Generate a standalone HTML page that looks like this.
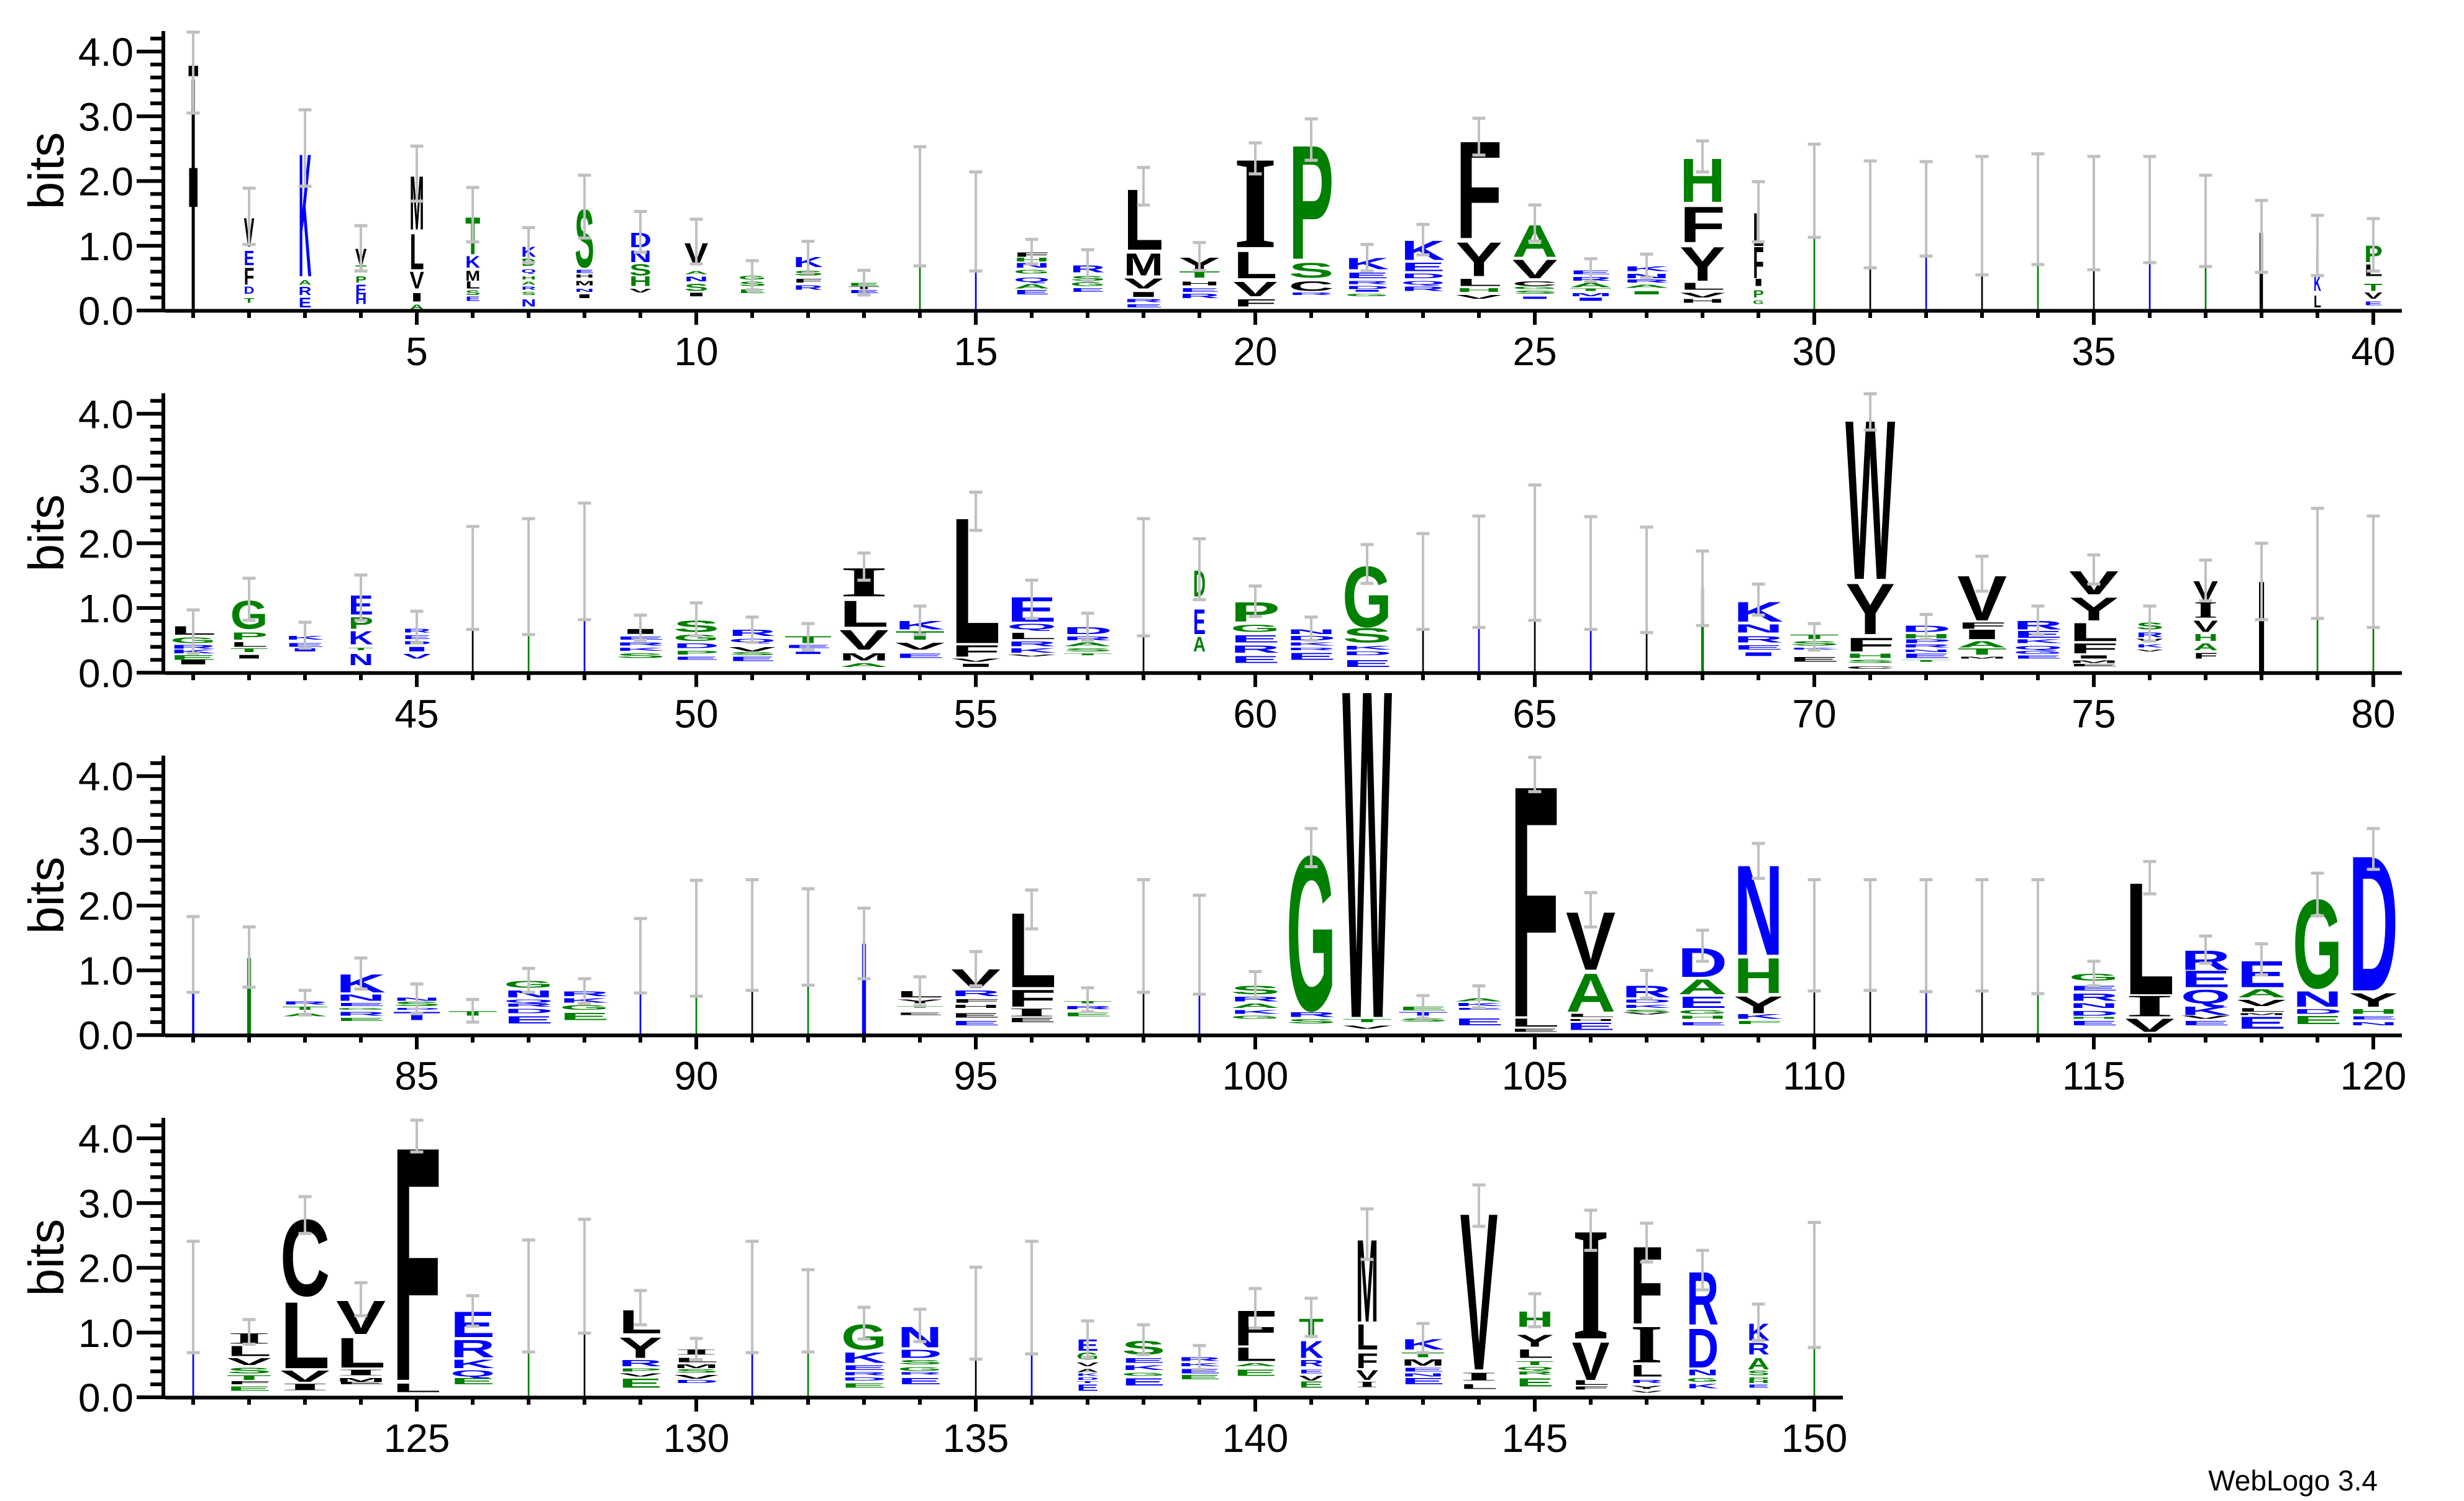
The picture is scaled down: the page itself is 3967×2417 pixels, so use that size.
<!DOCTYPE html>
<html><head><meta charset="utf-8"><style>
html,body{margin:0;padding:0;background:#fff}
svg{display:block}
.L text{font-family:"Liberation Sans",sans-serif;font-weight:bold;font-size:10px}
.k{fill:#000}.b{fill:#0000ff}.g{fill:#008000}
.L text.s{font-family:"Liberation Serif",serif}
.ax text{font-family:"Liberation Sans",sans-serif;font-weight:normal;fill:#000}
.eb{stroke:#c0c0c0;fill:none;stroke-width:4}
.ec{stroke:#c0c0c0;fill:none;stroke-width:5}
</style></head><body>
<svg width="3967" height="2417" viewBox="0 0 3967 2417" xmlns="http://www.w3.org/2000/svg">
<rect width="3967" height="2417" fill="#fff"/>

<!-- ROW 1 -->
<g class="L" transform="translate(271 500) scale(9 10.425)">
<g transform="translate(3.92 0)"><text class="k" transform="translate(0 -0.2)scale(1 5.16)" textLength="1.07" lengthAdjust="spacingAndGlyphs">I</text><rect x="-0.3" y="-37.8" width="1.7" height="1.6" class="k"/><rect x="-0.2" y="-22" width="1.5" height="6" class="k"/></g>
<g transform="translate(13.52 0)"><text class="g" transform="translate(0 -1.2)scale(1 0.11)" textLength="1.87" lengthAdjust="spacingAndGlyphs">T</text><text class="b" transform="translate(0 -2.6)scale(1 0.16)" textLength="1.87" lengthAdjust="spacingAndGlyphs">D</text><text class="k" transform="translate(0 -4)scale(1 0.37)" textLength="1.87" lengthAdjust="spacingAndGlyphs">F</text><text class="b" transform="translate(0 -7)scale(1 0.32)" textLength="1.87" lengthAdjust="spacingAndGlyphs">E</text><text class="k" transform="translate(0 -9.9)scale(1 0.63)" textLength="1.87" lengthAdjust="spacingAndGlyphs">V</text></g>
<g transform="translate(23.29 0)"><text class="b" transform="translate(0 -0.5)scale(1 0.21)" textLength="2.31" lengthAdjust="spacingAndGlyphs">E</text><text class="b" transform="translate(0 -2.4)scale(1 0.18)" textLength="2.31" lengthAdjust="spacingAndGlyphs">R</text><text class="g" transform="translate(0 -4)scale(1 0.11)" textLength="2.31" lengthAdjust="spacingAndGlyphs">A</text><text class="b" transform="translate(0 -5.3)scale(1 2.72)" textLength="2.31" lengthAdjust="spacingAndGlyphs">K</text></g>
<g transform="translate(33.43 0)"><text class="b" transform="translate(0 -1)scale(1 0.21)" textLength="2.05" lengthAdjust="spacingAndGlyphs">H</text><text class="b" transform="translate(0 -2.5)scale(1 0.21)" textLength="2.05" lengthAdjust="spacingAndGlyphs">E</text><text class="g" transform="translate(0 -4.3)scale(1 0.14)" textLength="2.05" lengthAdjust="spacingAndGlyphs">P</text><text class="g" transform="translate(0 -6)scale(1 0.14)" textLength="2.05" lengthAdjust="spacingAndGlyphs">T</text><text class="k" transform="translate(0 -7)scale(1 0.36)" textLength="2.05" lengthAdjust="spacingAndGlyphs">V</text></g>
<g transform="translate(43.16 0)"><text class="g" transform="translate(0 -0.2)scale(1 0.11)" textLength="2.58" lengthAdjust="spacingAndGlyphs">A</text><text class="k" transform="translate(0 -1.4)scale(1 0.19)" textLength="2.58" lengthAdjust="spacingAndGlyphs">I</text><text class="k" transform="translate(0 -3.4)scale(1 0.37)" textLength="2.58" lengthAdjust="spacingAndGlyphs">V</text><text class="k" transform="translate(0 -6.4)scale(1 0.78)" textLength="2.58" lengthAdjust="spacingAndGlyphs">L</text><text class="k" transform="translate(0 -12.5)scale(1 1.18)" textLength="2.58" lengthAdjust="spacingAndGlyphs">M</text></g>
<g transform="translate(53.12 0)"><text class="b" transform="translate(0 -1.5)scale(1 0.1)" textLength="2.67" lengthAdjust="spacingAndGlyphs">E</text><text class="g" transform="translate(0 -2.4)scale(1 0.11)" textLength="2.67" lengthAdjust="spacingAndGlyphs">S</text><text class="k" transform="translate(0 -3.4)scale(1 0.16)" textLength="2.67" lengthAdjust="spacingAndGlyphs">L</text><text class="k" transform="translate(0 -4.6)scale(1 0.22)" textLength="2.67" lengthAdjust="spacingAndGlyphs">M</text><text class="b" transform="translate(0 -6.6)scale(1 0.26)" textLength="2.67" lengthAdjust="spacingAndGlyphs">K</text><text class="g" transform="translate(0 -8.7)scale(1 0.82)" textLength="2.67" lengthAdjust="spacingAndGlyphs">T</text></g>
<g transform="translate(63.12 0)"><text class="b" transform="translate(0 -0.6)scale(1 0.16)" textLength="2.67" lengthAdjust="spacingAndGlyphs">N</text><text class="g" transform="translate(0 -2.4)scale(1 0.07)" textLength="2.67" lengthAdjust="spacingAndGlyphs">S</text><text class="b" transform="translate(0 -3.2)scale(1 0.07)" textLength="2.67" lengthAdjust="spacingAndGlyphs">R</text><text class="g" transform="translate(0 -4)scale(1 0.07)" textLength="2.67" lengthAdjust="spacingAndGlyphs">A</text><text class="g" transform="translate(0 -4.8)scale(1 0.07)" textLength="2.67" lengthAdjust="spacingAndGlyphs">H</text><text class="b" transform="translate(0 -5.8)scale(1 0.08)" textLength="2.67" lengthAdjust="spacingAndGlyphs">Q</text><text class="g" transform="translate(0 -6.9)scale(1 0.16)" textLength="2.67" lengthAdjust="spacingAndGlyphs">D</text><text class="b" transform="translate(0 -8.3)scale(1 0.22)" textLength="2.67" lengthAdjust="spacingAndGlyphs">K</text></g>
<g transform="translate(72.71 0)"><text class="k" transform="translate(0 -1.9)scale(1 0.08)" textLength="3.47" lengthAdjust="spacingAndGlyphs">I</text><text class="b" transform="translate(0 -2.9)scale(1 0.07)" textLength="3.47" lengthAdjust="spacingAndGlyphs">N</text><text class="k" transform="translate(0 -3.9)scale(1 0.1)" textLength="3.47" lengthAdjust="spacingAndGlyphs">M</text><text class="k" transform="translate(0 -5.1)scale(1 0.07)" textLength="3.47" lengthAdjust="spacingAndGlyphs">H</text><text class="b" transform="translate(0 -5.8)scale(1 0.07)" textLength="3.47" lengthAdjust="spacingAndGlyphs">E</text><text class="g" transform="translate(0 -6.7)scale(1 1.28)" textLength="3.47" lengthAdjust="spacingAndGlyphs">S</text></g>
<g transform="translate(82.45 0)"><text class="k" transform="translate(0 -2.8)scale(1 0.08)" textLength="4" lengthAdjust="spacingAndGlyphs">V</text><text class="g" transform="translate(0 -3.8)scale(1 0.21)" textLength="4" lengthAdjust="spacingAndGlyphs">H</text><text class="g" transform="translate(0 -5.4)scale(1 0.25)" textLength="4" lengthAdjust="spacingAndGlyphs">S</text><text class="b" transform="translate(0 -7.5)scale(1 0.26)" textLength="4" lengthAdjust="spacingAndGlyphs">N</text><text class="b" transform="translate(0 -9.8)scale(1 0.32)" textLength="4" lengthAdjust="spacingAndGlyphs">D</text></g>
<g transform="translate(92.31 0)"><text class="k" transform="translate(0 -2.2)scale(1 0.08)" textLength="4.27" lengthAdjust="spacingAndGlyphs">I</text><text class="g" transform="translate(0 -3)scale(1 0.16)" textLength="4.27" lengthAdjust="spacingAndGlyphs">S</text><text class="b" transform="translate(0 -4.5)scale(1 0.11)" textLength="4.27" lengthAdjust="spacingAndGlyphs">N</text><text class="g" transform="translate(0 -5.6)scale(1 0.07)" textLength="4.27" lengthAdjust="spacingAndGlyphs">A</text><text class="k" transform="translate(0 -7)scale(1 0.49)" textLength="4.27" lengthAdjust="spacingAndGlyphs">V</text></g>
<g transform="translate(101.96 0)"><text class="g" transform="translate(0 -2.7)scale(1 0.08)" textLength="4.98" lengthAdjust="spacingAndGlyphs">E</text><text class="g" transform="translate(0 -3.8)scale(1 0.1)" textLength="4.98" lengthAdjust="spacingAndGlyphs">S</text><text class="g" transform="translate(0 -4.8)scale(1 0.08)" textLength="4.98" lengthAdjust="spacingAndGlyphs">G</text></g>
<g transform="translate(111.78 0)"><text class="b" transform="translate(0 -3.2)scale(1 0.1)" textLength="5.34" lengthAdjust="spacingAndGlyphs">R</text><text class="k" transform="translate(0 -4.3)scale(1 0.08)" textLength="5.34" lengthAdjust="spacingAndGlyphs">F</text><text class="g" transform="translate(0 -5.4)scale(1 0.11)" textLength="5.34" lengthAdjust="spacingAndGlyphs">S</text><text class="b" transform="translate(0 -6.7)scale(1 0.22)" textLength="5.34" lengthAdjust="spacingAndGlyphs">K</text></g>
<g transform="translate(121.6 0)"><text class="b" transform="translate(0 -2.7)scale(1 0.07)" textLength="5.7" lengthAdjust="spacingAndGlyphs">E</text><text class="k" transform="translate(0 -3.3)scale(1 0.05)" textLength="5.7" lengthAdjust="spacingAndGlyphs">T</text><text class="g" transform="translate(0 -3.8)scale(1 0.07)" textLength="5.7" lengthAdjust="spacingAndGlyphs">E</text></g>
<rect x="134.3" y="-16.1" width="0.3" height="16.1" class="g"/>
<rect x="144.3" y="-13.9" width="0.3" height="13.9" class="b"/>
<g transform="translate(151.2 0)"><text class="b" transform="translate(0 -2.5)scale(1 0.1)" textLength="6.5" lengthAdjust="spacingAndGlyphs">E</text><text class="g" transform="translate(0 -3.4)scale(1 0.1)" textLength="6.5" lengthAdjust="spacingAndGlyphs">A</text><text class="b" transform="translate(0 -4.4)scale(1 0.1)" textLength="6.5" lengthAdjust="spacingAndGlyphs">Q</text><text class="g" transform="translate(0 -5.7)scale(1 0.08)" textLength="6.5" lengthAdjust="spacingAndGlyphs">G</text><text class="b" transform="translate(0 -6.6)scale(1 0.11)" textLength="6.5" lengthAdjust="spacingAndGlyphs">N</text><text class="g" transform="translate(0 -7.6)scale(1 0.08)" textLength="6.5" lengthAdjust="spacingAndGlyphs">H</text><text class="k" transform="translate(0 -8.3)scale(1 0.1)" textLength="6.5" lengthAdjust="spacingAndGlyphs">F</text></g>
<g transform="translate(161.29 0)"><text class="b" transform="translate(0 -2.9)scale(1 0.08)" textLength="6.32" lengthAdjust="spacingAndGlyphs">E</text><text class="g" transform="translate(0 -3.8)scale(1 0.08)" textLength="6.32" lengthAdjust="spacingAndGlyphs">G</text><text class="g" transform="translate(0 -4.6)scale(1 0.11)" textLength="6.32" lengthAdjust="spacingAndGlyphs">S</text><text class="b" transform="translate(0 -5.9)scale(1 0.15)" textLength="6.32" lengthAdjust="spacingAndGlyphs">R</text></g>
<g transform="translate(170.89 0)"><text class="b" transform="translate(0 -0.5)scale(1 0.07)" textLength="7.12" lengthAdjust="spacingAndGlyphs">E</text><text class="b" transform="translate(0 -1.3)scale(1 0.07)" textLength="7.12" lengthAdjust="spacingAndGlyphs">R</text><text class="k" transform="translate(0 -2.1)scale(1 0.11)" textLength="7.12" lengthAdjust="spacingAndGlyphs">I</text><text class="k" transform="translate(0 -3.4)scale(1 0.22)" textLength="7.12" lengthAdjust="spacingAndGlyphs">V</text><text class="k" transform="translate(0 -5.4)scale(1 0.49)" textLength="7.12" lengthAdjust="spacingAndGlyphs">M</text><text class="k" transform="translate(0 -9.4)scale(1 1.34)" textLength="7.12" lengthAdjust="spacingAndGlyphs">L</text></g>
<g transform="translate(180.76 0)"><text class="b" transform="translate(0 -1.9)scale(1 0.1)" textLength="7.39" lengthAdjust="spacingAndGlyphs">R</text><text class="b" transform="translate(0 -2.9)scale(1 0.08)" textLength="7.39" lengthAdjust="spacingAndGlyphs">E</text><text class="k" transform="translate(0 -3.9)scale(1 0.08)" textLength="7.39" lengthAdjust="spacingAndGlyphs">H</text><text class="g" transform="translate(0 -5.1)scale(1 0.14)" textLength="7.39" lengthAdjust="spacingAndGlyphs">T</text><text class="k" transform="translate(0 -6.1)scale(1 0.3)" textLength="7.39" lengthAdjust="spacingAndGlyphs">Y</text></g>
<g transform="translate(190.49 0)"><text class="k" transform="translate(0 -0.6)scale(1 0.16)" textLength="7.92" lengthAdjust="spacingAndGlyphs">F</text><text class="k" transform="translate(0 -2.2)scale(1 0.32)" textLength="7.92" lengthAdjust="spacingAndGlyphs">V</text><text class="k" transform="translate(0 -5)scale(1 0.59)" textLength="7.92" lengthAdjust="spacingAndGlyphs">L</text><text class="k s" transform="translate(0 -9.8)scale(1 2.04)" textLength="7.92" lengthAdjust="spacingAndGlyphs">I</text></g>
<g transform="translate(200.4 0)"><text class="b" transform="translate(0 -2.4)scale(1 0.05)" textLength="8.1" lengthAdjust="spacingAndGlyphs">R</text><text class="k" transform="translate(0 -3)scale(1 0.21)" textLength="8.1" lengthAdjust="spacingAndGlyphs">C</text><text class="g" transform="translate(0 -5.1)scale(1 0.33)" textLength="8.1" lengthAdjust="spacingAndGlyphs">S</text><text class="g" transform="translate(0 -8)scale(1 2.52)" textLength="8.1" lengthAdjust="spacingAndGlyphs">P</text></g>
<g transform="translate(210.49 0)"><text class="g" transform="translate(0 -2.2)scale(1 0.05)" textLength="7.92" lengthAdjust="spacingAndGlyphs">G</text><text class="b" transform="translate(0 -2.9)scale(1 0.04)" textLength="7.92" lengthAdjust="spacingAndGlyphs">I</text><text class="b" transform="translate(0 -3.3)scale(1 0.07)" textLength="7.92" lengthAdjust="spacingAndGlyphs">D</text><text class="b" transform="translate(0 -4.1)scale(1 0.07)" textLength="7.92" lengthAdjust="spacingAndGlyphs">R</text><text class="b" transform="translate(0 -5)scale(1 0.12)" textLength="7.92" lengthAdjust="spacingAndGlyphs">E</text><text class="b" transform="translate(0 -6.4)scale(1 0.25)" textLength="7.92" lengthAdjust="spacingAndGlyphs">K</text></g>
<g transform="translate(220.49 0)"><text class="b" transform="translate(0 -3)scale(1 0.1)" textLength="7.92" lengthAdjust="spacingAndGlyphs">R</text><text class="b" transform="translate(0 -4)scale(1 0.08)" textLength="7.92" lengthAdjust="spacingAndGlyphs">Q</text><text class="b" transform="translate(0 -5)scale(1 0.11)" textLength="7.92" lengthAdjust="spacingAndGlyphs">D</text><text class="b" transform="translate(0 -6.1)scale(1 0.19)" textLength="7.92" lengthAdjust="spacingAndGlyphs">E</text><text class="b" transform="translate(0 -7.8)scale(1 0.43)" textLength="7.92" lengthAdjust="spacingAndGlyphs">K</text></g>
<g transform="translate(230.27 0)"><text class="k" transform="translate(0 -1.8)scale(1 0.08)" textLength="8.37" lengthAdjust="spacingAndGlyphs">V</text><text class="g" transform="translate(0 -2.9)scale(1 0.08)" textLength="8.37" lengthAdjust="spacingAndGlyphs">H</text><text class="k" transform="translate(0 -3.8)scale(1 0.16)" textLength="8.37" lengthAdjust="spacingAndGlyphs">L</text><text class="k" transform="translate(0 -5.3)scale(1 0.75)" textLength="8.37" lengthAdjust="spacingAndGlyphs">Y</text><text class="k" transform="translate(0 -11.2)scale(1 2.15)" textLength="8.37" lengthAdjust="spacingAndGlyphs">F</text></g>
<g transform="translate(240.4 0)"><text class="b" transform="translate(0 -1.8)scale(1 0.05)" textLength="8.1" lengthAdjust="spacingAndGlyphs">I</text><text class="g" transform="translate(0 -2.6)scale(1 0.07)" textLength="8.1" lengthAdjust="spacingAndGlyphs">S</text><text class="g" transform="translate(0 -3.3)scale(1 0.05)" textLength="8.1" lengthAdjust="spacingAndGlyphs">G</text><text class="k" transform="translate(0 -3.8)scale(1 0.11)" textLength="8.1" lengthAdjust="spacingAndGlyphs">C</text><text class="k" transform="translate(0 -5)scale(1 0.41)" textLength="8.1" lengthAdjust="spacingAndGlyphs">V</text><text class="g" transform="translate(0 -8.3)scale(1 0.7)" textLength="8.1" lengthAdjust="spacingAndGlyphs">A</text></g>
<g transform="translate(250.62 0)"><text class="b" transform="translate(0 -1.5)scale(1 0.07)" textLength="7.65" lengthAdjust="spacingAndGlyphs">I</text><text class="b" transform="translate(0 -2.2)scale(1 0.07)" textLength="7.65" lengthAdjust="spacingAndGlyphs">M</text><text class="g" transform="translate(0 -3)scale(1 0.05)" textLength="7.65" lengthAdjust="spacingAndGlyphs">T</text><text class="g" transform="translate(0 -3.6)scale(1 0.1)" textLength="7.65" lengthAdjust="spacingAndGlyphs">A</text><text class="b" transform="translate(0 -4.6)scale(1 0.08)" textLength="7.65" lengthAdjust="spacingAndGlyphs">R</text><text class="b" transform="translate(0 -5.6)scale(1 0.08)" textLength="7.65" lengthAdjust="spacingAndGlyphs">E</text></g>
<g transform="translate(260.27 0)"><text class="g" transform="translate(0 -2.5)scale(1 0.07)" textLength="8.37" lengthAdjust="spacingAndGlyphs">I</text><text class="g" transform="translate(0 -3.5)scale(1 0.07)" textLength="8.37" lengthAdjust="spacingAndGlyphs">A</text><text class="b" transform="translate(0 -4.3)scale(1 0.07)" textLength="8.37" lengthAdjust="spacingAndGlyphs">R</text><text class="b" transform="translate(0 -5)scale(1 0.1)" textLength="8.37" lengthAdjust="spacingAndGlyphs">N</text><text class="b" transform="translate(0 -6.1)scale(1 0.11)" textLength="8.37" lengthAdjust="spacingAndGlyphs">K</text></g>
<g transform="translate(270.36 0)"><text class="k" transform="translate(0 -1.2)scale(1 0.08)" textLength="8.19" lengthAdjust="spacingAndGlyphs">H</text><text class="k" transform="translate(0 -2)scale(1 0.11)" textLength="8.19" lengthAdjust="spacingAndGlyphs">V</text><text class="k" transform="translate(0 -3.2)scale(1 0.15)" textLength="8.19" lengthAdjust="spacingAndGlyphs">L</text><text class="k" transform="translate(0 -4.6)scale(1 0.75)" textLength="8.19" lengthAdjust="spacingAndGlyphs">Y</text><text class="k" transform="translate(0 -10.6)scale(1 0.78)" textLength="8.19" lengthAdjust="spacingAndGlyphs">F</text><text class="g" transform="translate(0 -16.8)scale(1 0.96)" textLength="8.19" lengthAdjust="spacingAndGlyphs">H</text></g>
<g transform="translate(283.47 0)"><text class="g" transform="translate(0 -1)scale(1 0.08)" textLength="1.96" lengthAdjust="spacingAndGlyphs">G</text><text class="g" transform="translate(0 -2)scale(1 0.16)" textLength="1.96" lengthAdjust="spacingAndGlyphs">P</text><text class="k" transform="translate(0 -3.8)scale(1 0.16)" textLength="1.96" lengthAdjust="spacingAndGlyphs">I</text><text class="k" transform="translate(0 -5)scale(1 0.69)" textLength="1.96" lengthAdjust="spacingAndGlyphs">F</text><text class="k" transform="translate(0 -10)scale(1 0.73)" textLength="1.96" lengthAdjust="spacingAndGlyphs">L</text></g>
<rect x="294.3" y="-18.5" width="0.3" height="18.5" class="g"/>
<rect x="304.3" y="-15" width="0.3" height="15" class="k"/>
<rect x="314.3" y="-15.5" width="0.3" height="15.5" class="b"/>
<rect x="324.3" y="-14.5" width="0.3" height="14.5" class="k"/>
<rect x="334.3" y="-15.5" width="0.3" height="15.5" class="g"/>
<rect x="344.3" y="-15" width="0.3" height="15" class="k"/>
<rect x="354.3" y="-15.5" width="0.3" height="15.5" class="b"/>
<rect x="364.3" y="-13.5" width="0.3" height="13.5" class="g"/>
<rect x="374.1" y="-12" width="0.6" height="12" class="k"/>
<g transform="translate(383.78 0)"><text class="k" transform="translate(0 -0.5)scale(1 0.27)" textLength="1.33" lengthAdjust="spacingAndGlyphs">L</text><text class="b" transform="translate(0 -3)scale(1 0.34)" textLength="1.33" lengthAdjust="spacingAndGlyphs">K</text><rect x="0.45" y="-9.5" width="0.4" height="3.5" class="g"/></g>
<g transform="translate(392.8 0)"><text class="b" transform="translate(0 -0.8)scale(1 0.08)" textLength="3.29" lengthAdjust="spacingAndGlyphs">E</text><text class="k" transform="translate(0 -1.8)scale(1 0.14)" textLength="3.29" lengthAdjust="spacingAndGlyphs">V</text><text class="g" transform="translate(0 -3)scale(1 0.16)" textLength="3.29" lengthAdjust="spacingAndGlyphs">T</text><text class="k" transform="translate(0 -5.3)scale(1 0.26)" textLength="3.29" lengthAdjust="spacingAndGlyphs">L</text><text class="g" transform="translate(0 -7.5)scale(1 0.36)" textLength="3.29" lengthAdjust="spacingAndGlyphs">P</text></g>
<path vector-effect="non-scaling-stroke" class="eb" d="M4.45 -30.5V-43M14.45 -10.2V-18.9M24.45 -19.2V-31M34.45 -6.1V-13.1M44.45 -16.9V-25.4M54.45 -10.6V-19M64.45 -7.4V-12.8M74.45 -11.2V-20.9M84.45 -9V-15.3M94.45 -7.2V-14.1M104.45 -3.2V-7.7M114.45 -5.8V-10.7M124.45 -2.4V-6.2M134.45 -6.9V-25.3M144.45 -6.1V-21.4M154.45 -7.2V-11M164.45 -4.6V-9.4M174.45 -16.3V-22.1M184.45 -6.2V-10.5M194.45 -21.1V-25.9M204.45 -23.2V-29.6M214.45 -6.1V-10.2M224.45 -8.6V-13.3M234.45 -24V-29.7M244.45 -10.7V-16.3M254.45 -4.5V-8M264.45 -5.1V-8.7M274.45 -21.4V-26.2M284.45 -10.6V-19.9M294.45 -11.3V-25.7M304.45 -6.6V-23.1M314.45 -8.4V-23M324.45 -5.5V-23.8M334.45 -7.1V-24.2M344.45 -6.3V-23.8M354.45 -7.4V-23.8M364.45 -6.8V-20.9M374.45 -5.9V-17M384.45 -5.4V-14.7M394.45 -6.1V-14.2"/>
<path vector-effect="non-scaling-stroke" class="ec" d="M3.28 -30.5h2.33M3.28 -43h2.33M13.28 -10.2h2.33M13.28 -18.9h2.33M23.28 -19.2h2.33M23.28 -31h2.33M33.28 -6.1h2.33M33.28 -13.1h2.33M43.28 -16.9h2.33M43.28 -25.4h2.33M53.28 -10.6h2.33M53.28 -19h2.33M63.28 -7.4h2.33M63.28 -12.8h2.33M73.28 -11.2h2.33M73.28 -20.9h2.33M83.28 -9h2.33M83.28 -15.3h2.33M93.28 -7.2h2.33M93.28 -14.1h2.33M103.28 -3.2h2.33M103.28 -7.7h2.33M113.28 -5.8h2.33M113.28 -10.7h2.33M123.28 -2.4h2.33M123.28 -6.2h2.33M133.28 -6.9h2.33M133.28 -25.3h2.33M143.28 -6.1h2.33M143.28 -21.4h2.33M153.28 -7.2h2.33M153.28 -11h2.33M163.28 -4.6h2.33M163.28 -9.4h2.33M173.28 -16.3h2.33M173.28 -22.1h2.33M183.28 -6.2h2.33M183.28 -10.5h2.33M193.28 -21.1h2.33M193.28 -25.9h2.33M203.28 -23.2h2.33M203.28 -29.6h2.33M213.28 -6.1h2.33M213.28 -10.2h2.33M223.28 -8.6h2.33M223.28 -13.3h2.33M233.28 -24h2.33M233.28 -29.7h2.33M243.28 -10.7h2.33M243.28 -16.3h2.33M253.28 -4.5h2.33M253.28 -8h2.33M263.28 -5.1h2.33M263.28 -8.7h2.33M273.28 -21.4h2.33M273.28 -26.2h2.33M283.28 -10.6h2.33M283.28 -19.9h2.33M293.28 -11.3h2.33M293.28 -25.7h2.33M303.28 -6.6h2.33M303.28 -23.1h2.33M313.28 -8.4h2.33M313.28 -23h2.33M323.28 -5.5h2.33M323.28 -23.8h2.33M333.28 -7.1h2.33M333.28 -24.2h2.33M343.28 -6.3h2.33M343.28 -23.8h2.33M353.28 -7.4h2.33M353.28 -23.8h2.33M363.28 -6.8h2.33M363.28 -20.9h2.33M373.28 -5.9h2.33M373.28 -17h2.33M383.28 -5.4h2.33M383.28 -14.7h2.33M393.28 -6.1h2.33M393.28 -14.2h2.33"/>
</g>

<!-- ROW 2 -->
<g class="L" transform="translate(271 1083.3) scale(9 10.425)">
<g transform="translate(0.31 0)"><text class="k" transform="translate(0 -1.3)scale(1 0.1)" textLength="8.28" lengthAdjust="spacingAndGlyphs">I</text><text class="g" transform="translate(0 -2)scale(1 0.11)" textLength="8.28" lengthAdjust="spacingAndGlyphs">E</text><text class="b" transform="translate(0 -3)scale(1 0.08)" textLength="8.28" lengthAdjust="spacingAndGlyphs">K</text><text class="b" transform="translate(0 -3.7)scale(1 0.08)" textLength="8.28" lengthAdjust="spacingAndGlyphs">R</text><text class="g" transform="translate(0 -4.6)scale(1 0.12)" textLength="8.28" lengthAdjust="spacingAndGlyphs">G</text><text class="k" transform="translate(0 -5.9)scale(1 0.19)" textLength="8.28" lengthAdjust="spacingAndGlyphs">L</text></g>
<g transform="translate(11.07 0)"><text class="k" transform="translate(0 -2.2)scale(1 0.08)" textLength="6.76" lengthAdjust="spacingAndGlyphs">I</text><text class="g" transform="translate(0 -3.2)scale(1 0.08)" textLength="6.76" lengthAdjust="spacingAndGlyphs">T</text><text class="k" transform="translate(0 -4)scale(1 0.11)" textLength="6.76" lengthAdjust="spacingAndGlyphs">L</text><text class="g" transform="translate(0 -5.1)scale(1 0.16)" textLength="6.76" lengthAdjust="spacingAndGlyphs">P</text><text class="g" transform="translate(0 -6.8)scale(1 0.62)" textLength="6.76" lengthAdjust="spacingAndGlyphs">G</text></g>
<g transform="translate(20.93 0)"><text class="b" transform="translate(0 -3.3)scale(1 0.07)" textLength="7.03" lengthAdjust="spacingAndGlyphs">I</text><text class="b" transform="translate(0 -4)scale(1 0.08)" textLength="7.03" lengthAdjust="spacingAndGlyphs">E</text><text class="b" transform="translate(0 -5.1)scale(1 0.08)" textLength="7.03" lengthAdjust="spacingAndGlyphs">K</text></g>
<g transform="translate(32.22 0)"><text class="b" transform="translate(0 -1.2)scale(1 0.25)" textLength="4.45" lengthAdjust="spacingAndGlyphs">N</text><text class="g" transform="translate(0 -3.5)scale(1 0.05)" textLength="4.45" lengthAdjust="spacingAndGlyphs">T</text><text class="b" transform="translate(0 -4.4)scale(1 0.29)" textLength="4.45" lengthAdjust="spacingAndGlyphs">K</text><text class="g" transform="translate(0 -6.8)scale(1 0.26)" textLength="4.45" lengthAdjust="spacingAndGlyphs">P</text><text class="b" transform="translate(0 -9)scale(1 0.43)" textLength="4.45" lengthAdjust="spacingAndGlyphs">E</text></g>
<g transform="translate(41.87 0)"><text class="b" transform="translate(0 -2.2)scale(1 0.11)" textLength="5.16" lengthAdjust="spacingAndGlyphs">V</text><text class="b" transform="translate(0 -3.3)scale(1 0.1)" textLength="5.16" lengthAdjust="spacingAndGlyphs">I</text><text class="b" transform="translate(0 -4.4)scale(1 0.07)" textLength="5.16" lengthAdjust="spacingAndGlyphs">D</text><text class="b" transform="translate(0 -5.2)scale(1 0.08)" textLength="5.16" lengthAdjust="spacingAndGlyphs">E</text><text class="b" transform="translate(0 -6.2)scale(1 0.08)" textLength="5.16" lengthAdjust="spacingAndGlyphs">R</text></g>
<rect x="54.3" y="-13" width="0.3" height="13" class="k"/>
<rect x="64.3" y="-14.5" width="0.3" height="14.5" class="g"/>
<rect x="74.3" y="-14" width="0.3" height="14" class="b"/>
<g transform="translate(80 0)"><text class="g" transform="translate(0 -2.3)scale(1 0.11)" textLength="8.9" lengthAdjust="spacingAndGlyphs">S</text><text class="b" transform="translate(0 -3.4)scale(1 0.07)" textLength="8.9" lengthAdjust="spacingAndGlyphs">K</text><text class="b" transform="translate(0 -4.2)scale(1 0.07)" textLength="8.9" lengthAdjust="spacingAndGlyphs">R</text><text class="b" transform="translate(0 -5.1)scale(1 0.07)" textLength="8.9" lengthAdjust="spacingAndGlyphs">E</text><text class="k" transform="translate(0 -6)scale(1 0.11)" textLength="8.9" lengthAdjust="spacingAndGlyphs">I</text></g>
<g transform="translate(90.31 0)"><text class="b" transform="translate(0 -2)scale(1 0.07)" textLength="8.28" lengthAdjust="spacingAndGlyphs">E</text><text class="g" transform="translate(0 -2.8)scale(1 0.08)" textLength="8.28" lengthAdjust="spacingAndGlyphs">P</text><text class="b" transform="translate(0 -3.8)scale(1 0.11)" textLength="8.28" lengthAdjust="spacingAndGlyphs">D</text><text class="g" transform="translate(0 -4.9)scale(1 0.14)" textLength="8.28" lengthAdjust="spacingAndGlyphs">G</text><text class="g" transform="translate(0 -6.3)scale(1 0.25)" textLength="8.28" lengthAdjust="spacingAndGlyphs">S</text></g>
<g transform="translate(100.18 0)"><text class="b" transform="translate(0 -1.8)scale(1 0.1)" textLength="8.54" lengthAdjust="spacingAndGlyphs">E</text><text class="g" transform="translate(0 -2.7)scale(1 0.07)" textLength="8.54" lengthAdjust="spacingAndGlyphs">S</text><text class="k" transform="translate(0 -3.3)scale(1 0.1)" textLength="8.54" lengthAdjust="spacingAndGlyphs">V</text><text class="b" transform="translate(0 -4.7)scale(1 0.08)" textLength="8.54" lengthAdjust="spacingAndGlyphs">Q</text><text class="b" transform="translate(0 -5.7)scale(1 0.14)" textLength="8.54" lengthAdjust="spacingAndGlyphs">R</text></g>
<g transform="translate(110.18 0)"><text class="b" transform="translate(0 -2.9)scale(1 0.05)" textLength="8.54" lengthAdjust="spacingAndGlyphs">I</text><text class="b" transform="translate(0 -3.8)scale(1 0.07)" textLength="8.54" lengthAdjust="spacingAndGlyphs">E</text><text class="g" transform="translate(0 -4.6)scale(1 0.15)" textLength="8.54" lengthAdjust="spacingAndGlyphs">T</text></g>
<g transform="translate(120 0)"><text class="g" transform="translate(0 -0.9)scale(1 0.08)" textLength="8.9" lengthAdjust="spacingAndGlyphs">A</text><text class="k" transform="translate(0 -1.9)scale(1 0.16)" textLength="8.9" lengthAdjust="spacingAndGlyphs">M</text><text class="k" transform="translate(0 -3.6)scale(1 0.44)" textLength="8.9" lengthAdjust="spacingAndGlyphs">V</text><text class="k" transform="translate(0 -7.1)scale(1 0.58)" textLength="8.9" lengthAdjust="spacingAndGlyphs">L</text><text class="k s" transform="translate(0 -11.8)scale(1 0.66)" textLength="8.9" lengthAdjust="spacingAndGlyphs">I</text></g>
<g transform="translate(130 0)"><text class="b" transform="translate(0 -2.3)scale(1 0.1)" textLength="8.9" lengthAdjust="spacingAndGlyphs">E</text><text class="k" transform="translate(0 -3.6)scale(1 0.15)" textLength="8.9" lengthAdjust="spacingAndGlyphs">V</text><text class="g" transform="translate(0 -5.1)scale(1 0.19)" textLength="8.9" lengthAdjust="spacingAndGlyphs">T</text><text class="b" transform="translate(0 -6.7)scale(1 0.19)" textLength="8.9" lengthAdjust="spacingAndGlyphs">K</text></g>
<g transform="translate(140 0)"><text class="k" transform="translate(0 -0.9)scale(1 0.07)" textLength="8.9" lengthAdjust="spacingAndGlyphs">I</text><text class="k" transform="translate(0 -1.7)scale(1 0.07)" textLength="8.9" lengthAdjust="spacingAndGlyphs">V</text><text class="k" transform="translate(0 -2.5)scale(1 0.25)" textLength="8.9" lengthAdjust="spacingAndGlyphs">F</text><text class="k" transform="translate(0 -4.6)scale(1 2.78)" textLength="8.9" lengthAdjust="spacingAndGlyphs">L</text></g>
<g transform="translate(150 0)"><text class="k" transform="translate(0 -2.5)scale(1 0.04)" textLength="8.9" lengthAdjust="spacingAndGlyphs">V</text><text class="b" transform="translate(0 -3.1)scale(1 0.1)" textLength="8.9" lengthAdjust="spacingAndGlyphs">K</text><text class="b" transform="translate(0 -4.1)scale(1 0.11)" textLength="8.9" lengthAdjust="spacingAndGlyphs">R</text><text class="k" transform="translate(0 -5.2)scale(1 0.14)" textLength="8.9" lengthAdjust="spacingAndGlyphs">L</text><text class="b" transform="translate(0 -6.7)scale(1 0.12)" textLength="8.9" lengthAdjust="spacingAndGlyphs">Q</text><text class="b" transform="translate(0 -7.9)scale(1 0.54)" textLength="8.9" lengthAdjust="spacingAndGlyphs">E</text></g>
<g transform="translate(160 0)"><text class="g" transform="translate(0 -2.7)scale(1 0.04)" textLength="8.9" lengthAdjust="spacingAndGlyphs">T</text><text class="g" transform="translate(0 -3.3)scale(1 0.07)" textLength="8.9" lengthAdjust="spacingAndGlyphs">S</text><text class="g" transform="translate(0 -4.1)scale(1 0.08)" textLength="8.9" lengthAdjust="spacingAndGlyphs">A</text><text class="b" transform="translate(0 -5)scale(1 0.08)" textLength="8.9" lengthAdjust="spacingAndGlyphs">R</text><text class="b" transform="translate(0 -6)scale(1 0.15)" textLength="8.9" lengthAdjust="spacingAndGlyphs">D</text></g>
<rect x="174.3" y="-14" width="0.3" height="14" class="k"/>
<g transform="translate(183.34 0)"><text class="g" transform="translate(0 -3.3)scale(1 0.33)" textLength="2.22" lengthAdjust="spacingAndGlyphs">A</text><text class="b" transform="translate(0 -6)scale(1 0.55)" textLength="2.22" lengthAdjust="spacingAndGlyphs">E</text><text class="g" transform="translate(0 -11.8)scale(1 0.58)" textLength="2.22" lengthAdjust="spacingAndGlyphs">D</text></g>
<g transform="translate(190 0)"><text class="b" transform="translate(0 -1.5)scale(1 0.15)" textLength="8.9" lengthAdjust="spacingAndGlyphs">E</text><text class="b" transform="translate(0 -3.1)scale(1 0.16)" textLength="8.9" lengthAdjust="spacingAndGlyphs">R</text><text class="b" transform="translate(0 -4.7)scale(1 0.16)" textLength="8.9" lengthAdjust="spacingAndGlyphs">E</text><text class="g" transform="translate(0 -6.3)scale(1 0.16)" textLength="8.9" lengthAdjust="spacingAndGlyphs">G</text><text class="g" transform="translate(0 -7.9)scale(1 0.43)" textLength="8.9" lengthAdjust="spacingAndGlyphs">P</text></g>
<g transform="translate(200 0)"><text class="b" transform="translate(0 -2)scale(1 0.15)" textLength="8.9" lengthAdjust="spacingAndGlyphs">E</text><text class="b" transform="translate(0 -3.5)scale(1 0.05)" textLength="8.9" lengthAdjust="spacingAndGlyphs">R</text><text class="b" transform="translate(0 -4.2)scale(1 0.07)" textLength="8.9" lengthAdjust="spacingAndGlyphs">K</text><text class="b" transform="translate(0 -5)scale(1 0.1)" textLength="8.9" lengthAdjust="spacingAndGlyphs">D</text><text class="b" transform="translate(0 -6)scale(1 0.11)" textLength="8.9" lengthAdjust="spacingAndGlyphs">N</text></g>
<g transform="translate(210 0)"><text class="b" transform="translate(0 -0.9)scale(1 0.15)" textLength="8.9" lengthAdjust="spacingAndGlyphs">E</text><text class="b" transform="translate(0 -2.7)scale(1 0.08)" textLength="8.9" lengthAdjust="spacingAndGlyphs">D</text><text class="b" transform="translate(0 -3.6)scale(1 0.08)" textLength="8.9" lengthAdjust="spacingAndGlyphs">K</text><text class="g" transform="translate(0 -4.7)scale(1 0.32)" textLength="8.9" lengthAdjust="spacingAndGlyphs">S</text><text class="g" transform="translate(0 -7.1)scale(1 1.34)" textLength="8.9" lengthAdjust="spacingAndGlyphs">G</text></g>
<rect x="224.3" y="-14.5" width="0.3" height="14.5" class="k"/>
<rect x="234.3" y="-14" width="0.3" height="14" class="b"/>
<rect x="244.3" y="-18.5" width="0.3" height="18.5" class="k"/>
<rect x="254.3" y="-15.5" width="0.3" height="15.5" class="b"/>
<rect x="264.3" y="-14.5" width="0.3" height="14.5" class="k"/>
<rect x="274.2" y="-13" width="0.5" height="13" class="g"/>
<g transform="translate(280 0)"><text class="b" transform="translate(0 -2.6)scale(1 0.08)" textLength="8.9" lengthAdjust="spacingAndGlyphs">I</text><text class="b" transform="translate(0 -3.6)scale(1 0.1)" textLength="8.9" lengthAdjust="spacingAndGlyphs">E</text><text class="b" transform="translate(0 -4.7)scale(1 0.14)" textLength="8.9" lengthAdjust="spacingAndGlyphs">R</text><text class="b" transform="translate(0 -6.2)scale(1 0.18)" textLength="8.9" lengthAdjust="spacingAndGlyphs">N</text><text class="b" transform="translate(0 -7.9)scale(1 0.44)" textLength="8.9" lengthAdjust="spacingAndGlyphs">K</text></g>
<g transform="translate(290 0)"><text class="k" transform="translate(0 -1.7)scale(1 0.11)" textLength="8.9" lengthAdjust="spacingAndGlyphs">E</text><text class="b" transform="translate(0 -3.6)scale(1 0.04)" textLength="8.9" lengthAdjust="spacingAndGlyphs">K</text><text class="g" transform="translate(0 -4.2)scale(1 0.1)" textLength="8.9" lengthAdjust="spacingAndGlyphs">S</text><text class="g" transform="translate(0 -5.2)scale(1 0.1)" textLength="8.9" lengthAdjust="spacingAndGlyphs">T</text></g>
<g transform="translate(300 0)"><text class="k" transform="translate(0 -0.6)scale(1 0.05)" textLength="8.9" lengthAdjust="spacingAndGlyphs">C</text><text class="g" transform="translate(0 -1.5)scale(1 0.07)" textLength="8.9" lengthAdjust="spacingAndGlyphs">S</text><text class="g" transform="translate(0 -2.3)scale(1 0.1)" textLength="8.9" lengthAdjust="spacingAndGlyphs">H</text><text class="k" transform="translate(0 -3.3)scale(1 0.3)" textLength="8.9" lengthAdjust="spacingAndGlyphs">F</text><text class="k" transform="translate(0 -6)scale(1 1.12)" textLength="8.9" lengthAdjust="spacingAndGlyphs">Y</text><text class="k" transform="translate(0 -14.5)scale(1 3.53)" textLength="8.9" lengthAdjust="spacingAndGlyphs">W</text></g>
<g transform="translate(310 0)"><text class="g" transform="translate(0 -1.7)scale(1 0.04)" textLength="8.9" lengthAdjust="spacingAndGlyphs">T</text><text class="b" transform="translate(0 -2.3)scale(1 0.1)" textLength="8.9" lengthAdjust="spacingAndGlyphs">E</text><text class="b" transform="translate(0 -3.2)scale(1 0.05)" textLength="8.9" lengthAdjust="spacingAndGlyphs">N</text><text class="b" transform="translate(0 -3.9)scale(1 0.07)" textLength="8.9" lengthAdjust="spacingAndGlyphs">R</text><text class="b" transform="translate(0 -4.6)scale(1 0.08)" textLength="8.9" lengthAdjust="spacingAndGlyphs">P</text><text class="g" transform="translate(0 -5.3)scale(1 0.1)" textLength="8.9" lengthAdjust="spacingAndGlyphs">H</text><text class="b" transform="translate(0 -6.3)scale(1 0.14)" textLength="8.9" lengthAdjust="spacingAndGlyphs">D</text></g>
<g transform="translate(320 0)"><text class="k" transform="translate(0 -2.2)scale(1 0.04)" textLength="8.9" lengthAdjust="spacingAndGlyphs">M</text><text class="g" transform="translate(0 -2.8)scale(1 0.14)" textLength="8.9" lengthAdjust="spacingAndGlyphs">T</text><text class="g" transform="translate(0 -3.9)scale(1 0.14)" textLength="8.9" lengthAdjust="spacingAndGlyphs">A</text><text class="k" transform="translate(0 -5.2)scale(1 0.21)" textLength="8.9" lengthAdjust="spacingAndGlyphs">I</text><text class="k" transform="translate(0 -6.8)scale(1 0.14)" textLength="8.9" lengthAdjust="spacingAndGlyphs">F</text><text class="k" transform="translate(0 -8.1)scale(1 0.99)" textLength="8.9" lengthAdjust="spacingAndGlyphs">V</text></g>
<g transform="translate(330 0)"><text class="b" transform="translate(0 -2.2)scale(1 0.07)" textLength="8.9" lengthAdjust="spacingAndGlyphs">E</text><text class="b" transform="translate(0 -2.9)scale(1 0.07)" textLength="8.9" lengthAdjust="spacingAndGlyphs">G</text><text class="b" transform="translate(0 -3.6)scale(1 0.08)" textLength="8.9" lengthAdjust="spacingAndGlyphs">Q</text><text class="b" transform="translate(0 -4.6)scale(1 0.08)" textLength="8.9" lengthAdjust="spacingAndGlyphs">K</text><text class="b" transform="translate(0 -5.4)scale(1 0.15)" textLength="8.9" lengthAdjust="spacingAndGlyphs">E</text><text class="b" transform="translate(0 -6.7)scale(1 0.19)" textLength="8.9" lengthAdjust="spacingAndGlyphs">R</text></g>
<g transform="translate(340 0)"><text class="k" transform="translate(0 -1)scale(1 0.05)" textLength="8.9" lengthAdjust="spacingAndGlyphs">E</text><text class="k" transform="translate(0 -1.5)scale(1 0.05)" textLength="8.9" lengthAdjust="spacingAndGlyphs">M</text><text class="k" transform="translate(0 -2.2)scale(1 0.07)" textLength="8.9" lengthAdjust="spacingAndGlyphs">I</text><text class="k" transform="translate(0 -3)scale(1 0.22)" textLength="8.9" lengthAdjust="spacingAndGlyphs">F</text><text class="k" transform="translate(0 -4.9)scale(1 0.4)" textLength="8.9" lengthAdjust="spacingAndGlyphs">L</text><text class="k" transform="translate(0 -8.1)scale(1 0.51)" textLength="8.9" lengthAdjust="spacingAndGlyphs">Y</text><text class="k" transform="translate(0 -12.1)scale(1 0.52)" textLength="8.9" lengthAdjust="spacingAndGlyphs">V</text></g>
<g transform="translate(352 0)"><text class="k" transform="translate(0 -3.3)scale(1 0.04)" textLength="4.9" lengthAdjust="spacingAndGlyphs">V</text><text class="b" transform="translate(0 -3.9)scale(1 0.07)" textLength="4.9" lengthAdjust="spacingAndGlyphs">K</text><text class="k" transform="translate(0 -4.7)scale(1 0.08)" textLength="4.9" lengthAdjust="spacingAndGlyphs">V</text><text class="b" transform="translate(0 -5.5)scale(1 0.11)" textLength="4.9" lengthAdjust="spacingAndGlyphs">R</text><text class="g" transform="translate(0 -6.7)scale(1 0.15)" textLength="4.9" lengthAdjust="spacingAndGlyphs">S</text></g>
<g transform="translate(362.22 0)"><text class="k" transform="translate(0 -2.2)scale(1 0.12)" textLength="4.45" lengthAdjust="spacingAndGlyphs">F</text><text class="g" transform="translate(0 -3.5)scale(1 0.15)" textLength="4.45" lengthAdjust="spacingAndGlyphs">A</text><text class="g" transform="translate(0 -4.9)scale(1 0.15)" textLength="4.45" lengthAdjust="spacingAndGlyphs">H</text><text class="k" transform="translate(0 -6.3)scale(1 0.25)" textLength="4.45" lengthAdjust="spacingAndGlyphs">V</text><text class="k s" transform="translate(0 -8.5)scale(1 0.35)" textLength="4.45" lengthAdjust="spacingAndGlyphs">I</text><text class="k" transform="translate(0 -11.3)scale(1 0.41)" textLength="4.45" lengthAdjust="spacingAndGlyphs">V</text></g>
<rect x="374" y="-14" width="0.9" height="14" class="k"/>
<rect x="384.3" y="-13.5" width="0.3" height="13.5" class="g"/>
<rect x="394.3" y="-14" width="0.3" height="14" class="g"/>
<path vector-effect="non-scaling-stroke" class="eb" d="M4.45 -3V-9.7M14.45 -8.1V-14.6M24.45 -3.8V-7.8M34.45 -8.1V-15.1M44.45 -4.6V-9.5M54.45 -6.7V-22.6M64.45 -5.9V-23.8M74.45 -8.2V-26.2M84.45 -5V-8.9M94.45 -5.7V-10.8M104.45 -4.7V-8.6M114.45 -3.5V-7.6M124.45 -14.3V-18.5M134.45 -5.9V-10.3M144.45 -22V-27.9M154.45 -8.4V-14.3M164.45 -5V-9.2M174.45 -5.7V-23.8M184.45 -11.3V-20.7M194.45 -8.7V-13.4M204.45 -5V-8.6M214.45 -13.8V-19.8M224.45 -6.7V-21.5M234.45 -7V-24.2M244.45 -8.1V-29M254.45 -6.7V-24.1M264.45 -6.2V-22.5M274.45 -7.3V-18.8M284.45 -8.9V-13.7M294.45 -3.5V-7.6M304.45 -37.5V-43.1M314.45 -5.2V-9M324.45 -12.6V-18M334.45 -5.9V-10.3M344.45 -13.7V-18.2M354.45 -4.9V-10.3M364.45 -11.1V-17.4M374.45 -8.2V-20M384.45 -8.4V-25.4M394.45 -7V-24.2"/>
<path vector-effect="non-scaling-stroke" class="ec" d="M3.28 -3h2.33M3.28 -9.7h2.33M13.28 -8.1h2.33M13.28 -14.6h2.33M23.28 -3.8h2.33M23.28 -7.8h2.33M33.28 -8.1h2.33M33.28 -15.1h2.33M43.28 -4.6h2.33M43.28 -9.5h2.33M53.28 -6.7h2.33M53.28 -22.6h2.33M63.28 -5.9h2.33M63.28 -23.8h2.33M73.28 -8.2h2.33M73.28 -26.2h2.33M83.28 -5h2.33M83.28 -8.9h2.33M93.28 -5.7h2.33M93.28 -10.8h2.33M103.28 -4.7h2.33M103.28 -8.6h2.33M113.28 -3.5h2.33M113.28 -7.6h2.33M123.28 -14.3h2.33M123.28 -18.5h2.33M133.28 -5.9h2.33M133.28 -10.3h2.33M143.28 -22h2.33M143.28 -27.9h2.33M153.28 -8.4h2.33M153.28 -14.3h2.33M163.28 -5h2.33M163.28 -9.2h2.33M173.28 -5.7h2.33M173.28 -23.8h2.33M183.28 -11.3h2.33M183.28 -20.7h2.33M193.28 -8.7h2.33M193.28 -13.4h2.33M203.28 -5h2.33M203.28 -8.6h2.33M213.28 -13.8h2.33M213.28 -19.8h2.33M223.28 -6.7h2.33M223.28 -21.5h2.33M233.28 -7h2.33M233.28 -24.2h2.33M243.28 -8.1h2.33M243.28 -29h2.33M253.28 -6.7h2.33M253.28 -24.1h2.33M263.28 -6.2h2.33M263.28 -22.5h2.33M273.28 -7.3h2.33M273.28 -18.8h2.33M283.28 -8.9h2.33M283.28 -13.7h2.33M293.28 -3.5h2.33M293.28 -7.6h2.33M303.28 -37.5h2.33M303.28 -43.1h2.33M313.28 -5.2h2.33M313.28 -9h2.33M323.28 -12.6h2.33M323.28 -18h2.33M333.28 -5.9h2.33M333.28 -10.3h2.33M343.28 -13.7h2.33M343.28 -18.2h2.33M353.28 -4.9h2.33M353.28 -10.3h2.33M363.28 -11.1h2.33M363.28 -17.4h2.33M373.28 -8.2h2.33M373.28 -20h2.33M383.28 -8.4h2.33M383.28 -25.4h2.33M393.28 -7h2.33M393.28 -24.2h2.33"/>
</g>

<!-- ROW 3 -->
<g class="L" transform="translate(271 1666.7) scale(9 10.425)">
<rect x="4.25" y="-12.5" width="0.4" height="12.5" class="b"/>
<rect x="14.1" y="-11.9" width="0.7" height="11.9" class="g"/>
<g transform="translate(20.31 0)"><text class="g" transform="translate(0 -2.9)scale(1 0.07)" textLength="8.28" lengthAdjust="spacingAndGlyphs">A</text><text class="g" transform="translate(0 -3.9)scale(1 0.07)" textLength="8.28" lengthAdjust="spacingAndGlyphs">T</text><text class="b" transform="translate(0 -4.7)scale(1 0.07)" textLength="8.28" lengthAdjust="spacingAndGlyphs">R</text></g>
<g transform="translate(30 0)"><text class="g" transform="translate(0 -2.2)scale(1 0.07)" textLength="8.9" lengthAdjust="spacingAndGlyphs">E</text><text class="b" transform="translate(0 -3)scale(1 0.08)" textLength="8.9" lengthAdjust="spacingAndGlyphs">R</text><text class="g" transform="translate(0 -3.9)scale(1 0.04)" textLength="8.9" lengthAdjust="spacingAndGlyphs">G</text><text class="b" transform="translate(0 -4.5)scale(1 0.07)" textLength="8.9" lengthAdjust="spacingAndGlyphs">E</text><text class="b" transform="translate(0 -5.3)scale(1 0.14)" textLength="8.9" lengthAdjust="spacingAndGlyphs">N</text><text class="b" transform="translate(0 -6.6)scale(1 0.4)" textLength="8.9" lengthAdjust="spacingAndGlyphs">K</text></g>
<g transform="translate(40.18 0)"><text class="b" transform="translate(0 -2.3)scale(1 0.18)" textLength="8.54" lengthAdjust="spacingAndGlyphs">T</text><text class="b" transform="translate(0 -3.9)scale(1 0.04)" textLength="8.54" lengthAdjust="spacingAndGlyphs">D</text><text class="g" transform="translate(0 -4.5)scale(1 0.1)" textLength="8.54" lengthAdjust="spacingAndGlyphs">S</text><text class="b" transform="translate(0 -5.3)scale(1 0.07)" textLength="8.54" lengthAdjust="spacingAndGlyphs">N</text></g>
<g transform="translate(50 0)"><text class="g" transform="translate(0 -3)scale(1 0.1)" textLength="8.9" lengthAdjust="spacingAndGlyphs">T</text></g>
<g transform="translate(60 0)"><text class="b" transform="translate(0 -1.8)scale(1 0.16)" textLength="8.9" lengthAdjust="spacingAndGlyphs">E</text><text class="b" transform="translate(0 -3.4)scale(1 0.1)" textLength="8.9" lengthAdjust="spacingAndGlyphs">D</text><text class="b" transform="translate(0 -4.4)scale(1 0.07)" textLength="8.9" lengthAdjust="spacingAndGlyphs">R</text><text class="b" transform="translate(0 -5)scale(1 0.07)" textLength="8.9" lengthAdjust="spacingAndGlyphs">Q</text><text class="b" transform="translate(0 -5.8)scale(1 0.15)" textLength="8.9" lengthAdjust="spacingAndGlyphs">N</text><text class="g" transform="translate(0 -7.3)scale(1 0.15)" textLength="8.9" lengthAdjust="spacingAndGlyphs">G</text></g>
<g transform="translate(70 0)"><text class="g" transform="translate(0 -2.3)scale(1 0.16)" textLength="8.9" lengthAdjust="spacingAndGlyphs">E</text><text class="g" transform="translate(0 -3.9)scale(1 0.11)" textLength="8.9" lengthAdjust="spacingAndGlyphs">G</text><text class="b" transform="translate(0 -5)scale(1 0.1)" textLength="8.9" lengthAdjust="spacingAndGlyphs">K</text><text class="b" transform="translate(0 -6)scale(1 0.11)" textLength="8.9" lengthAdjust="spacingAndGlyphs">R</text></g>
<rect x="84.3" y="-13" width="0.3" height="13" class="b"/>
<rect x="94.3" y="-15" width="0.3" height="15" class="g"/>
<rect x="104.3" y="-15" width="0.3" height="15" class="k"/>
<rect x="114.3" y="-14.5" width="0.3" height="14.5" class="g"/>
<rect x="124.1" y="-14.1" width="0.7" height="14.1" class="b"/>
<g transform="translate(130.18 0)"><text class="k" transform="translate(0 -3.1)scale(1 0.05)" textLength="8.54" lengthAdjust="spacingAndGlyphs">E</text><text class="g" transform="translate(0 -4.2)scale(1 0.04)" textLength="8.54" lengthAdjust="spacingAndGlyphs">T</text><text class="k" transform="translate(0 -4.9)scale(1 0.08)" textLength="8.54" lengthAdjust="spacingAndGlyphs">Y</text><text class="k" transform="translate(0 -5.8)scale(1 0.14)" textLength="8.54" lengthAdjust="spacingAndGlyphs">L</text></g>
<g transform="translate(140 0)"><text class="b" transform="translate(0 -1.5)scale(1 0.1)" textLength="8.9" lengthAdjust="spacingAndGlyphs">E</text><text class="k" transform="translate(0 -2.7)scale(1 0.1)" textLength="8.9" lengthAdjust="spacingAndGlyphs">E</text><text class="k" transform="translate(0 -4.2)scale(1 0.07)" textLength="8.9" lengthAdjust="spacingAndGlyphs">H</text><text class="k" transform="translate(0 -5)scale(1 0.08)" textLength="8.9" lengthAdjust="spacingAndGlyphs">F</text><text class="b" transform="translate(0 -6)scale(1 0.12)" textLength="8.9" lengthAdjust="spacingAndGlyphs">R</text><text class="k" transform="translate(0 -7.3)scale(1 0.41)" textLength="8.9" lengthAdjust="spacingAndGlyphs">V</text></g>
<g transform="translate(150 0)"><text class="k" transform="translate(0 -2)scale(1 0.1)" textLength="8.9" lengthAdjust="spacingAndGlyphs">E</text><text class="k s" transform="translate(0 -2.9)scale(1 0.18)" textLength="8.9" lengthAdjust="spacingAndGlyphs">I</text><text class="k" transform="translate(0 -4.4)scale(1 0.37)" textLength="8.9" lengthAdjust="spacingAndGlyphs">F</text><text class="k" transform="translate(0 -7.4)scale(1 1.65)" textLength="8.9" lengthAdjust="spacingAndGlyphs">L</text></g>
<g transform="translate(160 0)"><text class="g" transform="translate(0 -2.9)scale(1 0.08)" textLength="8.9" lengthAdjust="spacingAndGlyphs">E</text><text class="b" transform="translate(0 -4)scale(1 0.07)" textLength="8.9" lengthAdjust="spacingAndGlyphs">R</text><text class="g" transform="translate(0 -4.9)scale(1 0.05)" textLength="8.9" lengthAdjust="spacingAndGlyphs">T</text></g>
<rect x="174.3" y="-15" width="0.3" height="15" class="k"/>
<rect x="184.3" y="-13.5" width="0.3" height="13.5" class="b"/>
<g transform="translate(190 0)"><text class="g" transform="translate(0 -2.5)scale(1 0.07)" textLength="8.9" lengthAdjust="spacingAndGlyphs">G</text><text class="b" transform="translate(0 -3.3)scale(1 0.08)" textLength="8.9" lengthAdjust="spacingAndGlyphs">K</text><text class="g" transform="translate(0 -4.2)scale(1 0.1)" textLength="8.9" lengthAdjust="spacingAndGlyphs">A</text><text class="b" transform="translate(0 -5.2)scale(1 0.11)" textLength="8.9" lengthAdjust="spacingAndGlyphs">R</text><text class="g" transform="translate(0 -6.3)scale(1 0.19)" textLength="8.9" lengthAdjust="spacingAndGlyphs">S</text></g>
<g transform="translate(200 0)"><text class="g" transform="translate(0 -1.8)scale(1 0.1)" textLength="8.9" lengthAdjust="spacingAndGlyphs">S</text><text class="b" transform="translate(0 -2.8)scale(1 0.11)" textLength="8.9" lengthAdjust="spacingAndGlyphs">R</text><text class="g" transform="translate(0 -3.9)scale(1 3.42)" textLength="8.9" lengthAdjust="spacingAndGlyphs">G</text></g>
<g transform="translate(210 0)"><text class="k" transform="translate(0 -1)scale(1 0.07)" textLength="8.9" lengthAdjust="spacingAndGlyphs">V</text><text class="g" transform="translate(0 -2)scale(1 0.07)" textLength="8.9" lengthAdjust="spacingAndGlyphs">T</text><text class="k" transform="translate(0 -2.8)scale(1 7.27)" textLength="8.9" lengthAdjust="spacingAndGlyphs">W</text></g>
<g transform="translate(220 0)"><text class="g" transform="translate(0 -2.1)scale(1 0.07)" textLength="8.9" lengthAdjust="spacingAndGlyphs">S</text><text class="b" transform="translate(0 -3)scale(1 0.08)" textLength="8.9" lengthAdjust="spacingAndGlyphs">T</text><text class="g" transform="translate(0 -3.8)scale(1 0.08)" textLength="8.9" lengthAdjust="spacingAndGlyphs">E</text></g>
<g transform="translate(230 0)"><text class="b" transform="translate(0 -1.5)scale(1 0.15)" textLength="8.9" lengthAdjust="spacingAndGlyphs">E</text><text class="b" transform="translate(0 -3.9)scale(1 0.04)" textLength="8.9" lengthAdjust="spacingAndGlyphs">E</text><text class="b" transform="translate(0 -4.5)scale(1 0.07)" textLength="8.9" lengthAdjust="spacingAndGlyphs">K</text><text class="g" transform="translate(0 -5.2)scale(1 0.07)" textLength="8.9" lengthAdjust="spacingAndGlyphs">A</text></g>
<g transform="translate(240 0)"><text class="k" transform="translate(0 -0.5)scale(1 0.07)" textLength="8.9" lengthAdjust="spacingAndGlyphs">E</text><text class="k" transform="translate(0 -1.3)scale(1 0.18)" textLength="8.9" lengthAdjust="spacingAndGlyphs">L</text><text class="k" transform="translate(0 -2.9)scale(1 5.12)" textLength="8.9" lengthAdjust="spacingAndGlyphs">F</text></g>
<g transform="translate(250 0)"><text class="b" transform="translate(0 -0.8)scale(1 0.16)" textLength="8.9" lengthAdjust="spacingAndGlyphs">E</text><text class="k" transform="translate(0 -2.2)scale(1 0.04)" textLength="8.9" lengthAdjust="spacingAndGlyphs">H</text><text class="k" transform="translate(0 -2.8)scale(1 0.07)" textLength="8.9" lengthAdjust="spacingAndGlyphs">L</text><text class="g" transform="translate(0 -3.6)scale(1 0.85)" textLength="8.9" lengthAdjust="spacingAndGlyphs">A</text><text class="k" transform="translate(0 -10.1)scale(1 1.28)" textLength="8.9" lengthAdjust="spacingAndGlyphs">V</text></g>
<g transform="translate(260 0)"><text class="k" transform="translate(0 -3.2)scale(1 0.04)" textLength="8.9" lengthAdjust="spacingAndGlyphs">V</text><text class="g" transform="translate(0 -3.5)scale(1 0.05)" textLength="8.9" lengthAdjust="spacingAndGlyphs">S</text><text class="b" transform="translate(0 -4.2)scale(1 0.07)" textLength="8.9" lengthAdjust="spacingAndGlyphs">K</text><text class="b" transform="translate(0 -5)scale(1 0.07)" textLength="8.9" lengthAdjust="spacingAndGlyphs">D</text><text class="b" transform="translate(0 -5.8)scale(1 0.26)" textLength="8.9" lengthAdjust="spacingAndGlyphs">R</text></g>
<g transform="translate(270 0)"><text class="b" transform="translate(0 -1.5)scale(1 0.07)" textLength="8.9" lengthAdjust="spacingAndGlyphs">E</text><text class="g" transform="translate(0 -2.5)scale(1 0.07)" textLength="8.9" lengthAdjust="spacingAndGlyphs">H</text><text class="g" transform="translate(0 -3.3)scale(1 0.08)" textLength="8.9" lengthAdjust="spacingAndGlyphs">G</text><text class="b" transform="translate(0 -4.2)scale(1 0.25)" textLength="8.9" lengthAdjust="spacingAndGlyphs">E</text><text class="g" transform="translate(0 -6.3)scale(1 0.33)" textLength="8.9" lengthAdjust="spacingAndGlyphs">A</text><text class="b" transform="translate(0 -9)scale(1 0.64)" textLength="8.9" lengthAdjust="spacingAndGlyphs">D</text></g>
<g transform="translate(280 0)"><text class="g" transform="translate(0 -1.7)scale(1 0.07)" textLength="8.9" lengthAdjust="spacingAndGlyphs">F</text><text class="b" transform="translate(0 -2.5)scale(1 0.11)" textLength="8.9" lengthAdjust="spacingAndGlyphs">K</text><text class="k" transform="translate(0 -3.4)scale(1 0.37)" textLength="8.9" lengthAdjust="spacingAndGlyphs">Y</text><text class="g" transform="translate(0 -6.5)scale(1 0.77)" textLength="8.9" lengthAdjust="spacingAndGlyphs">H</text><text class="b" transform="translate(0 -12.4)scale(1 1.99)" textLength="8.9" lengthAdjust="spacingAndGlyphs">N</text></g>
<rect x="294.3" y="-15.5" width="0.3" height="15.5" class="k"/>
<rect x="304.3" y="-15.5" width="0.3" height="15.5" class="k"/>
<rect x="314.3" y="-15.5" width="0.3" height="15.5" class="b"/>
<rect x="324.3" y="-15.5" width="0.3" height="15.5" class="k"/>
<rect x="334.3" y="-15" width="0.3" height="15" class="g"/>
<g transform="translate(340 0)"><text class="b" transform="translate(0 -1.5)scale(1 0.1)" textLength="8.9" lengthAdjust="spacingAndGlyphs">E</text><text class="g" transform="translate(0 -2.5)scale(1 0.04)" textLength="8.9" lengthAdjust="spacingAndGlyphs">H</text><text class="b" transform="translate(0 -3)scale(1 0.11)" textLength="8.9" lengthAdjust="spacingAndGlyphs">D</text><text class="b" transform="translate(0 -4.2)scale(1 0.11)" textLength="8.9" lengthAdjust="spacingAndGlyphs">N</text><text class="b" transform="translate(0 -5.3)scale(1 0.16)" textLength="8.9" lengthAdjust="spacingAndGlyphs">R</text><text class="b" transform="translate(0 -6.9)scale(1 0.11)" textLength="8.9" lengthAdjust="spacingAndGlyphs">E</text><text class="g" transform="translate(0 -8.4)scale(1 0.15)" textLength="8.9" lengthAdjust="spacingAndGlyphs">G</text></g>
<g transform="translate(350 0)"><text class="k" transform="translate(0 -0.5)scale(1 0.29)" textLength="8.9" lengthAdjust="spacingAndGlyphs">V</text><text class="k s" transform="translate(0 -2.9)scale(1 0.48)" textLength="8.9" lengthAdjust="spacingAndGlyphs">I</text><text class="k" transform="translate(0 -6.3)scale(1 2.48)" textLength="8.9" lengthAdjust="spacingAndGlyphs">L</text></g>
<g transform="translate(360 0)"><text class="b" transform="translate(0 -1.5)scale(1 0.1)" textLength="8.9" lengthAdjust="spacingAndGlyphs">E</text><text class="k" transform="translate(0 -2.5)scale(1 0.07)" textLength="8.9" lengthAdjust="spacingAndGlyphs">V</text><text class="b" transform="translate(0 -3.1)scale(1 0.19)" textLength="8.9" lengthAdjust="spacingAndGlyphs">K</text><text class="b" transform="translate(0 -4.9)scale(1 0.3)" textLength="8.9" lengthAdjust="spacingAndGlyphs">Q</text><text class="b" transform="translate(0 -7.4)scale(1 0.36)" textLength="8.9" lengthAdjust="spacingAndGlyphs">E</text><text class="b" transform="translate(0 -10.1)scale(1 0.43)" textLength="8.9" lengthAdjust="spacingAndGlyphs">R</text></g>
<g transform="translate(370 0)"><text class="b" transform="translate(0 -1)scale(1 0.27)" textLength="8.9" lengthAdjust="spacingAndGlyphs">E</text><text class="k" transform="translate(0 -3.1)scale(1 0.04)" textLength="8.9" lengthAdjust="spacingAndGlyphs">M</text><text class="k" transform="translate(0 -3.6)scale(1 0.08)" textLength="8.9" lengthAdjust="spacingAndGlyphs">L</text><text class="k" transform="translate(0 -4.5)scale(1 0.14)" textLength="8.9" lengthAdjust="spacingAndGlyphs">V</text><text class="g" transform="translate(0 -5.8)scale(1 0.18)" textLength="8.9" lengthAdjust="spacingAndGlyphs">A</text><text class="b" transform="translate(0 -7.4)scale(1 0.58)" textLength="8.9" lengthAdjust="spacingAndGlyphs">E</text></g>
<g transform="translate(380 0)"><text class="g" transform="translate(0 -1.7)scale(1 0.18)" textLength="8.9" lengthAdjust="spacingAndGlyphs">E</text><text class="b" transform="translate(0 -3.3)scale(1 0.11)" textLength="8.9" lengthAdjust="spacingAndGlyphs">D</text><text class="b" transform="translate(0 -4.4)scale(1 0.34)" textLength="8.9" lengthAdjust="spacingAndGlyphs">N</text><text class="g" transform="translate(0 -7.3)scale(1 1.96)" textLength="8.9" lengthAdjust="spacingAndGlyphs">G</text></g>
<g transform="translate(390 0)"><text class="b" transform="translate(0 -1.5)scale(1 0.07)" textLength="8.9" lengthAdjust="spacingAndGlyphs">N</text><text class="b" transform="translate(0 -2.4)scale(1 0.07)" textLength="8.9" lengthAdjust="spacingAndGlyphs">E</text><text class="g" transform="translate(0 -3.3)scale(1 0.11)" textLength="8.9" lengthAdjust="spacingAndGlyphs">H</text><text class="k" transform="translate(0 -4.4)scale(1 0.3)" textLength="8.9" lengthAdjust="spacingAndGlyphs">Y</text><text class="b" transform="translate(0 -6.9)scale(1 2.99)" textLength="8.9" lengthAdjust="spacingAndGlyphs">D</text></g>
<path vector-effect="non-scaling-stroke" class="eb" d="M4.45 -6.6V-18.3M14.45 -7.4V-16.7M24.45 -3.1V-6.9M34.45 -7.1V-11.9M44.45 -3.3V-7.9M54.45 -2V-5.5M64.45 -6.6V-10.3M74.45 -4.9V-8.7M84.45 -6.5V-18M94.45 -6V-23.9M104.45 -6.9V-24M114.45 -7.7V-22.6M124.45 -8.7V-19.6M134.45 -4.5V-9M144.45 -7.6V-12.9M154.45 -16.4V-22.4M164.45 -3.6V-7.3M174.45 -6.6V-24M184.45 -6.3V-21.6M194.45 -5.8V-9.8M204.45 -26V-31.9M224.45 -2.6V-6.1M234.45 -4.2V-7.6M244.45 -37.6V-42.9M254.45 -16.7V-22M264.45 -5.7V-10M274.45 -11.4V-16.2M284.45 -24.2V-29.6M294.45 -6.8V-24M304.45 -6.9V-24M314.45 -6.7V-24M324.45 -6.8V-24M334.45 -6.4V-24M344.45 -7.6V-11.4M354.45 -21.8V-26.8M364.45 -11.1V-15.3M374.45 -9.3V-14.1M384.45 -18.4V-25M394.45 -25.6V-31.9"/>
<path vector-effect="non-scaling-stroke" class="ec" d="M3.28 -6.6h2.33M3.28 -18.3h2.33M13.28 -7.4h2.33M13.28 -16.7h2.33M23.28 -3.1h2.33M23.28 -6.9h2.33M33.28 -7.1h2.33M33.28 -11.9h2.33M43.28 -3.3h2.33M43.28 -7.9h2.33M53.28 -2h2.33M53.28 -5.5h2.33M63.28 -6.6h2.33M63.28 -10.3h2.33M73.28 -4.9h2.33M73.28 -8.7h2.33M83.28 -6.5h2.33M83.28 -18h2.33M93.28 -6h2.33M93.28 -23.9h2.33M103.28 -6.9h2.33M103.28 -24h2.33M113.28 -7.7h2.33M113.28 -22.6h2.33M123.28 -8.7h2.33M123.28 -19.6h2.33M133.28 -4.5h2.33M133.28 -9h2.33M143.28 -7.6h2.33M143.28 -12.9h2.33M153.28 -16.4h2.33M153.28 -22.4h2.33M163.28 -3.6h2.33M163.28 -7.3h2.33M173.28 -6.6h2.33M173.28 -24h2.33M183.28 -6.3h2.33M183.28 -21.6h2.33M193.28 -5.8h2.33M193.28 -9.8h2.33M203.28 -26h2.33M203.28 -31.9h2.33M223.28 -2.6h2.33M223.28 -6.1h2.33M233.28 -4.2h2.33M233.28 -7.6h2.33M243.28 -37.6h2.33M243.28 -42.9h2.33M253.28 -16.7h2.33M253.28 -22h2.33M263.28 -5.7h2.33M263.28 -10h2.33M273.28 -11.4h2.33M273.28 -16.2h2.33M283.28 -24.2h2.33M283.28 -29.6h2.33M293.28 -6.8h2.33M293.28 -24h2.33M303.28 -6.9h2.33M303.28 -24h2.33M313.28 -6.7h2.33M313.28 -24h2.33M323.28 -6.8h2.33M323.28 -24h2.33M333.28 -6.4h2.33M333.28 -24h2.33M343.28 -7.6h2.33M343.28 -11.4h2.33M353.28 -21.8h2.33M353.28 -26.8h2.33M363.28 -11.1h2.33M363.28 -15.3h2.33M373.28 -9.3h2.33M373.28 -14.1h2.33M383.28 -18.4h2.33M383.28 -25h2.33M393.28 -25.6h2.33M393.28 -31.9h2.33"/>
</g>

<!-- ROW 4 -->
<g class="L" transform="translate(271 2250) scale(9 10.425)">
<rect x="4.3" y="-15" width="0.3" height="15" class="b"/>
<g transform="translate(10.45 0)"><text class="g" transform="translate(0 -1)scale(1 0.1)" textLength="8.01" lengthAdjust="spacingAndGlyphs">E</text><text class="k" transform="translate(0 -2)scale(1 0.07)" textLength="8.01" lengthAdjust="spacingAndGlyphs">F</text><text class="g" transform="translate(0 -2.7)scale(1 0.11)" textLength="8.01" lengthAdjust="spacingAndGlyphs">T</text><text class="g" transform="translate(0 -3.7)scale(1 0.12)" textLength="8.01" lengthAdjust="spacingAndGlyphs">S</text><text class="k" transform="translate(0 -5)scale(1 0.15)" textLength="8.01" lengthAdjust="spacingAndGlyphs">V</text><text class="k" transform="translate(0 -6.4)scale(1 0.22)" textLength="8.01" lengthAdjust="spacingAndGlyphs">L</text><text class="k s" transform="translate(0 -8.3)scale(1 0.24)" textLength="8.01" lengthAdjust="spacingAndGlyphs">I</text></g>
<g transform="translate(20 0)"><text class="k s" transform="translate(0 -1.1)scale(1 0.15)" textLength="8.9" lengthAdjust="spacingAndGlyphs">I</text><text class="k" transform="translate(0 -2.4)scale(1 0.25)" textLength="8.9" lengthAdjust="spacingAndGlyphs">V</text><text class="k" transform="translate(0 -4.5)scale(1 1.47)" textLength="8.9" lengthAdjust="spacingAndGlyphs">L</text><text class="k" transform="translate(0 -15.7)scale(1 1.69)" textLength="8.9" lengthAdjust="spacingAndGlyphs">C</text></g>
<g transform="translate(30 0)"><text class="k" transform="translate(0 -2)scale(1 0.05)" textLength="8.9" lengthAdjust="spacingAndGlyphs">E</text><text class="k" transform="translate(0 -2.4)scale(1 0.08)" textLength="8.9" lengthAdjust="spacingAndGlyphs">M</text><text class="k s" transform="translate(0 -3.4)scale(1 0.13)" textLength="8.9" lengthAdjust="spacingAndGlyphs">I</text><text class="k" transform="translate(0 -4.6)scale(1 0.66)" textLength="8.9" lengthAdjust="spacingAndGlyphs">L</text><text class="k" transform="translate(0 -9.8)scale(1 0.74)" textLength="8.9" lengthAdjust="spacingAndGlyphs">V</text></g>
<g transform="translate(40 0)"><text class="k" transform="translate(0 -0.8)scale(1 0.19)" textLength="8.9" lengthAdjust="spacingAndGlyphs">L</text><text class="k" transform="translate(0 -2.7)scale(1 5.17)" textLength="8.9" lengthAdjust="spacingAndGlyphs">F</text></g>
<g transform="translate(50.45 0)"><text class="g" transform="translate(0 -2)scale(1 0.14)" textLength="8.01" lengthAdjust="spacingAndGlyphs">E</text><text class="b" transform="translate(0 -3.2)scale(1 0.14)" textLength="8.01" lengthAdjust="spacingAndGlyphs">Q</text><text class="b" transform="translate(0 -4.5)scale(1 0.19)" textLength="8.01" lengthAdjust="spacingAndGlyphs">K</text><text class="b" transform="translate(0 -6.2)scale(1 0.38)" textLength="8.01" lengthAdjust="spacingAndGlyphs">R</text><text class="b" transform="translate(0 -9.3)scale(1 0.56)" textLength="8.01" lengthAdjust="spacingAndGlyphs">E</text></g>
<rect x="64.3" y="-15" width="0.3" height="15" class="g"/>
<rect x="74.3" y="-18.5" width="0.3" height="18.5" class="k"/>
<g transform="translate(80.53 0)"><text class="g" transform="translate(0 -1.5)scale(1 0.2)" textLength="7.83" lengthAdjust="spacingAndGlyphs">E</text><text class="k" transform="translate(0 -3.2)scale(1 0.07)" textLength="7.83" lengthAdjust="spacingAndGlyphs">V</text><text class="g" transform="translate(0 -4)scale(1 0.07)" textLength="7.83" lengthAdjust="spacingAndGlyphs">P</text><text class="b" transform="translate(0 -4.8)scale(1 0.14)" textLength="7.83" lengthAdjust="spacingAndGlyphs">R</text><text class="k" transform="translate(0 -6.1)scale(1 0.45)" textLength="7.83" lengthAdjust="spacingAndGlyphs">Y</text><text class="k" transform="translate(0 -9.9)scale(1 0.52)" textLength="7.83" lengthAdjust="spacingAndGlyphs">L</text></g>
<g transform="translate(90.45 0)"><text class="b" transform="translate(0 -2.2)scale(1 0.07)" textLength="8.01" lengthAdjust="spacingAndGlyphs">D</text><text class="k" transform="translate(0 -2.9)scale(1 0.08)" textLength="8.01" lengthAdjust="spacingAndGlyphs">V</text><text class="g" transform="translate(0 -3.8)scale(1 0.08)" textLength="8.01" lengthAdjust="spacingAndGlyphs">S</text><text class="k" transform="translate(0 -4.5)scale(1 0.08)" textLength="8.01" lengthAdjust="spacingAndGlyphs">M</text><text class="k" transform="translate(0 -5.4)scale(1 0.1)" textLength="8.01" lengthAdjust="spacingAndGlyphs">L</text><text class="k s" transform="translate(0 -6.6)scale(1 0.12)" textLength="8.01" lengthAdjust="spacingAndGlyphs">I</text></g>
<rect x="104.3" y="-15.5" width="0.3" height="15.5" class="b"/>
<rect x="114.3" y="-9" width="0.3" height="9" class="g"/>
<g transform="translate(120.36 0)"><text class="g" transform="translate(0 -1.5)scale(1 0.1)" textLength="8.19" lengthAdjust="spacingAndGlyphs">E</text><text class="b" transform="translate(0 -2.6)scale(1 0.07)" textLength="8.19" lengthAdjust="spacingAndGlyphs">D</text><text class="b" transform="translate(0 -3.4)scale(1 0.07)" textLength="8.19" lengthAdjust="spacingAndGlyphs">R</text><text class="b" transform="translate(0 -4.2)scale(1 0.11)" textLength="8.19" lengthAdjust="spacingAndGlyphs">E</text><text class="b" transform="translate(0 -5.3)scale(1 0.23)" textLength="8.19" lengthAdjust="spacingAndGlyphs">K</text><text class="g" transform="translate(0 -7.4)scale(1 0.55)" textLength="8.19" lengthAdjust="spacingAndGlyphs">G</text></g>
<g transform="translate(130.45 0)"><text class="b" transform="translate(0 -2)scale(1 0.14)" textLength="8.01" lengthAdjust="spacingAndGlyphs">E</text><text class="b" transform="translate(0 -3.5)scale(1 0.05)" textLength="8.01" lengthAdjust="spacingAndGlyphs">R</text><text class="g" transform="translate(0 -4.1)scale(1 0.08)" textLength="8.01" lengthAdjust="spacingAndGlyphs">G</text><text class="g" transform="translate(0 -5.1)scale(1 0.1)" textLength="8.01" lengthAdjust="spacingAndGlyphs">S</text><text class="b" transform="translate(0 -6.1)scale(1 0.18)" textLength="8.01" lengthAdjust="spacingAndGlyphs">D</text><text class="b" transform="translate(0 -7.7)scale(1 0.45)" textLength="8.01" lengthAdjust="spacingAndGlyphs">N</text></g>
<rect x="144.3" y="-15" width="0.3" height="15" class="k"/>
<rect x="154.3" y="-15.5" width="0.3" height="15.5" class="b"/>
<g transform="translate(162.45 0)"><text class="b" transform="translate(0 -1)scale(1 0.14)" textLength="4" lengthAdjust="spacingAndGlyphs">E</text><text class="b" transform="translate(0 -2.2)scale(1 0.04)" textLength="4" lengthAdjust="spacingAndGlyphs">T</text><text class="b" transform="translate(0 -2.7)scale(1 0.05)" textLength="4" lengthAdjust="spacingAndGlyphs">D</text><text class="b" transform="translate(0 -3.3)scale(1 0.05)" textLength="4" lengthAdjust="spacingAndGlyphs">K</text><text class="k" transform="translate(0 -3.9)scale(1 0.07)" textLength="4" lengthAdjust="spacingAndGlyphs">A</text><text class="k" transform="translate(0 -4.8)scale(1 0.08)" textLength="4" lengthAdjust="spacingAndGlyphs">V</text><text class="g" transform="translate(0 -5.8)scale(1 0.16)" textLength="4" lengthAdjust="spacingAndGlyphs">G</text><text class="b" transform="translate(0 -7.2)scale(1 0.25)" textLength="4" lengthAdjust="spacingAndGlyphs">E</text></g>
<g transform="translate(170.53 0)"><text class="b" transform="translate(0 -1.8)scale(1 0.16)" textLength="7.83" lengthAdjust="spacingAndGlyphs">E</text><text class="g" transform="translate(0 -3.3)scale(1 0.07)" textLength="7.83" lengthAdjust="spacingAndGlyphs">G</text><text class="b" transform="translate(0 -4.2)scale(1 0.11)" textLength="7.83" lengthAdjust="spacingAndGlyphs">K</text><text class="b" transform="translate(0 -5.3)scale(1 0.11)" textLength="7.83" lengthAdjust="spacingAndGlyphs">E</text><text class="g" transform="translate(0 -6.6)scale(1 0.3)" textLength="7.83" lengthAdjust="spacingAndGlyphs">S</text></g>
<g transform="translate(180.53 0)"><text class="g" transform="translate(0 -2.8)scale(1 0.1)" textLength="7.83" lengthAdjust="spacingAndGlyphs">E</text><text class="b" transform="translate(0 -3.7)scale(1 0.1)" textLength="7.83" lengthAdjust="spacingAndGlyphs">E</text><text class="b" transform="translate(0 -4.8)scale(1 0.07)" textLength="7.83" lengthAdjust="spacingAndGlyphs">K</text><text class="b" transform="translate(0 -5.6)scale(1 0.08)" textLength="7.83" lengthAdjust="spacingAndGlyphs">R</text></g>
<g transform="translate(190.53 0)"><text class="g" transform="translate(0 -3.3)scale(1 0.14)" textLength="7.83" lengthAdjust="spacingAndGlyphs">E</text><text class="g" transform="translate(0 -4.8)scale(1 0.07)" textLength="7.83" lengthAdjust="spacingAndGlyphs">A</text><text class="k" transform="translate(0 -5.6)scale(1 0.3)" textLength="7.83" lengthAdjust="spacingAndGlyphs">L</text><text class="k" transform="translate(0 -8)scale(1 0.77)" textLength="7.83" lengthAdjust="spacingAndGlyphs">F</text></g>
<g transform="translate(202.22 0)"><text class="g" transform="translate(0 -1.5)scale(1 0.14)" textLength="4.45" lengthAdjust="spacingAndGlyphs">E</text><text class="k" transform="translate(0 -2.6)scale(1 0.11)" textLength="4.45" lengthAdjust="spacingAndGlyphs">V</text><text class="b" transform="translate(0 -3.7)scale(1 0.08)" textLength="4.45" lengthAdjust="spacingAndGlyphs">E</text><text class="b" transform="translate(0 -4.8)scale(1 0.14)" textLength="4.45" lengthAdjust="spacingAndGlyphs">R</text><text class="b" transform="translate(0 -6.1)scale(1 0.37)" textLength="4.45" lengthAdjust="spacingAndGlyphs">K</text><text class="g" transform="translate(0 -9.3)scale(1 0.41)" textLength="4.45" lengthAdjust="spacingAndGlyphs">T</text></g>
<g transform="translate(212.45 0)"><text class="k s" transform="translate(0 -1.6)scale(1 0.12)" textLength="4" lengthAdjust="spacingAndGlyphs">I</text><text class="k" transform="translate(0 -2.7)scale(1 0.21)" textLength="4" lengthAdjust="spacingAndGlyphs">V</text><text class="k" transform="translate(0 -4.5)scale(1 0.33)" textLength="4" lengthAdjust="spacingAndGlyphs">F</text><text class="k" transform="translate(0 -7.4)scale(1 0.56)" textLength="4" lengthAdjust="spacingAndGlyphs">L</text><text class="k" transform="translate(0 -11.7)scale(1 1.82)" textLength="4" lengthAdjust="spacingAndGlyphs">M</text></g>
<g transform="translate(220.53 0)"><text class="b" transform="translate(0 -2)scale(1 0.14)" textLength="7.83" lengthAdjust="spacingAndGlyphs">E</text><text class="b" transform="translate(0 -3.2)scale(1 0.07)" textLength="7.83" lengthAdjust="spacingAndGlyphs">N</text><text class="b" transform="translate(0 -4)scale(1 0.08)" textLength="7.83" lengthAdjust="spacingAndGlyphs">E</text><text class="k" transform="translate(0 -4.9)scale(1 0.14)" textLength="7.83" lengthAdjust="spacingAndGlyphs">M</text><text class="g" transform="translate(0 -6.2)scale(1 0.11)" textLength="7.83" lengthAdjust="spacingAndGlyphs">T</text><text class="b" transform="translate(0 -7.4)scale(1 0.23)" textLength="7.83" lengthAdjust="spacingAndGlyphs">K</text></g>
<g transform="translate(231.07 0)"><text class="k" transform="translate(0 -1.3)scale(1 0.11)" textLength="6.76" lengthAdjust="spacingAndGlyphs">L</text><text class="k s" transform="translate(0 -2.6)scale(1 0.18)" textLength="6.76" lengthAdjust="spacingAndGlyphs">I</text><text class="k" transform="translate(0 -4.3)scale(1 3.47)" textLength="6.76" lengthAdjust="spacingAndGlyphs">V</text></g>
<g transform="translate(241.07 0)"><text class="g" transform="translate(0 -1.7)scale(1 0.18)" textLength="6.76" lengthAdjust="spacingAndGlyphs">E</text><text class="g" transform="translate(0 -3.5)scale(1 0.07)" textLength="6.76" lengthAdjust="spacingAndGlyphs">R</text><text class="g" transform="translate(0 -4.2)scale(1 0.07)" textLength="6.76" lengthAdjust="spacingAndGlyphs">Q</text><text class="g" transform="translate(0 -5)scale(1 0.08)" textLength="6.76" lengthAdjust="spacingAndGlyphs">T</text><text class="k" transform="translate(0 -6.1)scale(1 0.19)" textLength="6.76" lengthAdjust="spacingAndGlyphs">L</text><text class="k" transform="translate(0 -7.8)scale(1 0.27)" textLength="6.76" lengthAdjust="spacingAndGlyphs">Y</text><text class="g" transform="translate(0 -10.9)scale(1 0.34)" textLength="6.76" lengthAdjust="spacingAndGlyphs">H</text></g>
<g transform="translate(251.07 0)"><text class="k" transform="translate(0 -1.2)scale(1 0.07)" textLength="6.76" lengthAdjust="spacingAndGlyphs">F</text><text class="k" transform="translate(0 -1.9)scale(1 0.11)" textLength="6.76" lengthAdjust="spacingAndGlyphs">L</text><text class="k" transform="translate(0 -2.7)scale(1 0.84)" textLength="6.76" lengthAdjust="spacingAndGlyphs">V</text><text class="k s" transform="translate(0 -9.1)scale(1 2.5)" textLength="6.76" lengthAdjust="spacingAndGlyphs">I</text></g>
<g transform="translate(261.51 0)"><text class="k" transform="translate(0 -0.7)scale(1 0.04)" textLength="5.87" lengthAdjust="spacingAndGlyphs">V</text><text class="k" transform="translate(0 -1.3)scale(1 0.07)" textLength="5.87" lengthAdjust="spacingAndGlyphs">Y</text><text class="b" transform="translate(0 -2.2)scale(1 0.07)" textLength="5.87" lengthAdjust="spacingAndGlyphs">R</text><text class="k" transform="translate(0 -3.2)scale(1 0.26)" textLength="5.87" lengthAdjust="spacingAndGlyphs">L</text><text class="k s" transform="translate(0 -5.4)scale(1 0.83)" textLength="5.87" lengthAdjust="spacingAndGlyphs">I</text><text class="k" transform="translate(0 -11.4)scale(1 1.71)" textLength="5.87" lengthAdjust="spacingAndGlyphs">F</text></g>
<g transform="translate(271.56 0)"><text class="b" transform="translate(0 -1.4)scale(1 0.1)" textLength="5.79" lengthAdjust="spacingAndGlyphs">K</text><text class="g" transform="translate(0 -2.4)scale(1 0.08)" textLength="5.79" lengthAdjust="spacingAndGlyphs">G</text><text class="b" transform="translate(0 -3.4)scale(1 0.12)" textLength="5.79" lengthAdjust="spacingAndGlyphs">N</text><text class="b" transform="translate(0 -4.6)scale(1 0.86)" textLength="5.79" lengthAdjust="spacingAndGlyphs">D</text><text class="b" transform="translate(0 -11.2)scale(1 1.17)" textLength="5.79" lengthAdjust="spacingAndGlyphs">R</text></g>
<g transform="translate(282.45 0)"><text class="b" transform="translate(0 -1.5)scale(1 0.07)" textLength="4" lengthAdjust="spacingAndGlyphs">E</text><text class="g" transform="translate(0 -2.2)scale(1 0.07)" textLength="4" lengthAdjust="spacingAndGlyphs">H</text><text class="g" transform="translate(0 -2.7)scale(1 0.05)" textLength="4" lengthAdjust="spacingAndGlyphs">P</text><text class="g" transform="translate(0 -3.4)scale(1 0.11)" textLength="4" lengthAdjust="spacingAndGlyphs">S</text><text class="g" transform="translate(0 -4.3)scale(1 0.25)" textLength="4" lengthAdjust="spacingAndGlyphs">A</text><text class="b" transform="translate(0 -6.6)scale(1 0.26)" textLength="4" lengthAdjust="spacingAndGlyphs">R</text><text class="b" transform="translate(0 -8.8)scale(1 0.37)" textLength="4" lengthAdjust="spacingAndGlyphs">K</text></g>
<rect x="294.3" y="-14.5" width="0.3" height="14.5" class="g"/>
<path vector-effect="non-scaling-stroke" class="eb" d="M4.45 -6.9V-24.1M14.45 -8.2V-12M24.45 -25.3V-31M34.45 -12.6V-17.7M44.45 -37.9V-42.8M54.45 -11V-15.7M64.45 -7V-24.3M74.45 -9.9V-27.5M84.45 -11.2V-16.5M94.45 -5.8V-9.1M104.45 -6.9V-24.1M114.45 -7V-19.7M124.45 -9V-13.9M134.45 -8.6V-13.6M144.45 -5.9V-20.1M154.45 -6.7V-24.1M164.45 -6.1V-11.8M174.45 -6.6V-11.2M184.45 -4.3V-8M194.45 -10.7V-16.8M204.45 -9.4V-15.3M214.45 -21.3V-29.1M224.45 -6.9V-11.4M234.45 -26.4V-32.8M244.45 -10.9V-16M254.45 -22.7V-28.9M264.45 -20.9V-26.9M274.45 -16.6V-22.7M284.45 -8.8V-14.4M294.45 -7.7V-27"/>
<path vector-effect="non-scaling-stroke" class="ec" d="M3.28 -6.9h2.33M3.28 -24.1h2.33M13.28 -8.2h2.33M13.28 -12h2.33M23.28 -25.3h2.33M23.28 -31h2.33M33.28 -12.6h2.33M33.28 -17.7h2.33M43.28 -37.9h2.33M43.28 -42.8h2.33M53.28 -11h2.33M53.28 -15.7h2.33M63.28 -7h2.33M63.28 -24.3h2.33M73.28 -9.9h2.33M73.28 -27.5h2.33M83.28 -11.2h2.33M83.28 -16.5h2.33M93.28 -5.8h2.33M93.28 -9.1h2.33M103.28 -6.9h2.33M103.28 -24.1h2.33M113.28 -7h2.33M113.28 -19.7h2.33M123.28 -9h2.33M123.28 -13.9h2.33M133.28 -8.6h2.33M133.28 -13.6h2.33M143.28 -5.9h2.33M143.28 -20.1h2.33M153.28 -6.7h2.33M153.28 -24.1h2.33M163.28 -6.1h2.33M163.28 -11.8h2.33M173.28 -6.6h2.33M173.28 -11.2h2.33M183.28 -4.3h2.33M183.28 -8h2.33M193.28 -10.7h2.33M193.28 -16.8h2.33M203.28 -9.4h2.33M203.28 -15.3h2.33M213.28 -21.3h2.33M213.28 -29.1h2.33M223.28 -6.9h2.33M223.28 -11.4h2.33M233.28 -26.4h2.33M233.28 -32.8h2.33M243.28 -10.9h2.33M243.28 -16h2.33M253.28 -22.7h2.33M253.28 -28.9h2.33M263.28 -20.9h2.33M263.28 -26.9h2.33M273.28 -16.6h2.33M273.28 -22.7h2.33M283.28 -8.8h2.33M283.28 -14.4h2.33M293.28 -7.7h2.33M293.28 -27h2.33"/>
</g>

<!-- AXES -->
<g class="ax">
<g stroke="#000" stroke-width="6" fill="none">
<path d="M263 50V503M266 500.5H3867"/>
<path d="M220 500H263M220 395.75H263M220 291.5H263M220 187.25H263M220 83H263"/>
<path d="M242 479.15H263M242 458.3H263M242 437.45H263M242 416.6H263M242 374.9H263M242 354.05H263M242 333.2H263M242 312.35H263M242 270.65H263M242 249.8H263M242 228.95H263M242 208.1H263M242 166.4H263M242 145.55H263M242 124.7H263M242 103.85H263M242 62.15H263"/>
</g>
<g transform="translate(0 583.3)" stroke="#000" stroke-width="6" fill="none">
<path d="M263 50V503M266 500.5H3867"/>
<path d="M220 500H263M220 395.75H263M220 291.5H263M220 187.25H263M220 83H263"/>
<path d="M242 479.15H263M242 458.3H263M242 437.45H263M242 416.6H263M242 374.9H263M242 354.05H263M242 333.2H263M242 312.35H263M242 270.65H263M242 249.8H263M242 228.95H263M242 208.1H263M242 166.4H263M242 145.55H263M242 124.7H263M242 103.85H263M242 62.15H263"/>
</g>
<g transform="translate(0 1166.7)" stroke="#000" stroke-width="6" fill="none">
<path d="M263 50V503M266 500.5H3867"/>
<path d="M220 500H263M220 395.75H263M220 291.5H263M220 187.25H263M220 83H263"/>
<path d="M242 479.15H263M242 458.3H263M242 437.45H263M242 416.6H263M242 374.9H263M242 354.05H263M242 333.2H263M242 312.35H263M242 270.65H263M242 249.8H263M242 228.95H263M242 208.1H263M242 166.4H263M242 145.55H263M242 124.7H263M242 103.85H263M242 62.15H263"/>
</g>
<g transform="translate(0 1750)" stroke="#000" stroke-width="6" fill="none">
<path d="M263 50V503M266 500.5H2967"/>
<path d="M220 500H263M220 395.75H263M220 291.5H263M220 187.25H263M220 83H263"/>
<path d="M242 479.15H263M242 458.3H263M242 437.45H263M242 416.6H263M242 374.9H263M242 354.05H263M242 333.2H263M242 312.35H263M242 270.65H263M242 249.8H263M242 228.95H263M242 208.1H263M242 166.4H263M242 145.55H263M242 124.7H263M242 103.85H263M242 62.15H263"/>
</g>
<g stroke="#000" stroke-width="6" fill="none">
<path d="M311 503v9M401 503v9M491 503v9M581 503v9M671 503v20M761 503v9M851 503v9M941 503v9M1031 503v9M1121 503v20M1211 503v9M1301 503v9M1391 503v9M1481 503v9M1571 503v20M1661 503v9M1751 503v9M1841 503v9M1931 503v9M2021 503v20M2111 503v9M2201 503v9M2291 503v9M2381 503v9M2471 503v20M2561 503v9M2651 503v9M2741 503v9M2831 503v9M2921 503v20M3011 503v9M3101 503v9M3191 503v9M3281 503v9M3371 503v20M3461 503v9M3551 503v9M3641 503v9M3731 503v9M3821 503v20"/>
<path transform="translate(0 583.3)" d="M311 503v9M401 503v9M491 503v9M581 503v9M671 503v20M761 503v9M851 503v9M941 503v9M1031 503v9M1121 503v20M1211 503v9M1301 503v9M1391 503v9M1481 503v9M1571 503v20M1661 503v9M1751 503v9M1841 503v9M1931 503v9M2021 503v20M2111 503v9M2201 503v9M2291 503v9M2381 503v9M2471 503v20M2561 503v9M2651 503v9M2741 503v9M2831 503v9M2921 503v20M3011 503v9M3101 503v9M3191 503v9M3281 503v9M3371 503v20M3461 503v9M3551 503v9M3641 503v9M3731 503v9M3821 503v20"/>
<path transform="translate(0 1166.7)" d="M311 503v9M401 503v9M491 503v9M581 503v9M671 503v20M761 503v9M851 503v9M941 503v9M1031 503v9M1121 503v20M1211 503v9M1301 503v9M1391 503v9M1481 503v9M1571 503v20M1661 503v9M1751 503v9M1841 503v9M1931 503v9M2021 503v20M2111 503v9M2201 503v9M2291 503v9M2381 503v9M2471 503v20M2561 503v9M2651 503v9M2741 503v9M2831 503v9M2921 503v20M3011 503v9M3101 503v9M3191 503v9M3281 503v9M3371 503v20M3461 503v9M3551 503v9M3641 503v9M3731 503v9M3821 503v20"/>
<path transform="translate(0 1750)" d="M311 503v9M401 503v9M491 503v9M581 503v9M671 503v20M761 503v9M851 503v9M941 503v9M1031 503v9M1121 503v20M1211 503v9M1301 503v9M1391 503v9M1481 503v9M1571 503v20M1661 503v9M1751 503v9M1841 503v9M1931 503v9M2021 503v20M2111 503v9M2201 503v9M2291 503v9M2381 503v9M2471 503v20M2561 503v9M2651 503v9M2741 503v9M2831 503v9M2921 503v20"/>
</g>
<g font-size="64" text-anchor="end">
<text x="215" y="523">0.0</text><text x="215" y="418.75">1.0</text><text x="215" y="314.5">2.0</text><text x="215" y="210.25">3.0</text><text x="215" y="106">4.0</text>
<text x="215" y="1106.3">0.0</text><text x="215" y="1002.05">1.0</text><text x="215" y="897.8">2.0</text><text x="215" y="793.55">3.0</text><text x="215" y="689.3">4.0</text>
<text x="215" y="1689.7">0.0</text><text x="215" y="1585.45">1.0</text><text x="215" y="1481.2">2.0</text><text x="215" y="1376.95">3.0</text><text x="215" y="1272.7">4.0</text>
<text x="215" y="2273">0.0</text><text x="215" y="2168.75">1.0</text><text x="215" y="2064.5">2.0</text><text x="215" y="1960.25">3.0</text><text x="215" y="1856">4.0</text>
</g>
<g font-size="64" text-anchor="middle">
<text x="671" y="588">5</text><text x="1121" y="588">10</text><text x="1571" y="588">15</text><text x="2021" y="588">20</text><text x="2471" y="588">25</text><text x="2921" y="588">30</text><text x="3371" y="588">35</text><text x="3821" y="588">40</text>
<text x="671" y="1171.3">45</text><text x="1121" y="1171.3">50</text><text x="1571" y="1171.3">55</text><text x="2021" y="1171.3">60</text><text x="2471" y="1171.3">65</text><text x="2921" y="1171.3">70</text><text x="3371" y="1171.3">75</text><text x="3821" y="1171.3">80</text>
<text x="671" y="1754.7">85</text><text x="1121" y="1754.7">90</text><text x="1571" y="1754.7">95</text><text x="2021" y="1754.7">100</text><text x="2471" y="1754.7">105</text><text x="2921" y="1754.7">110</text><text x="3371" y="1754.7">115</text><text x="3821" y="1754.7">120</text>
<text x="671" y="2338">125</text><text x="1121" y="2338">130</text><text x="1571" y="2338">135</text><text x="2021" y="2338">140</text><text x="2471" y="2338">145</text><text x="2921" y="2338">150</text>
</g>
<g font-size="80" text-anchor="middle">
<text transform="translate(102 275) rotate(-90)">bits</text>
<text transform="translate(102 858.3) rotate(-90)">bits</text>
<text transform="translate(102 1441.7) rotate(-90)">bits</text>
<text transform="translate(102 2025) rotate(-90)">bits</text>
</g>
<text x="3828" y="2400" text-anchor="end" font-size="46">WebLogo 3.4</text>
</g>
</svg>
</body></html>
